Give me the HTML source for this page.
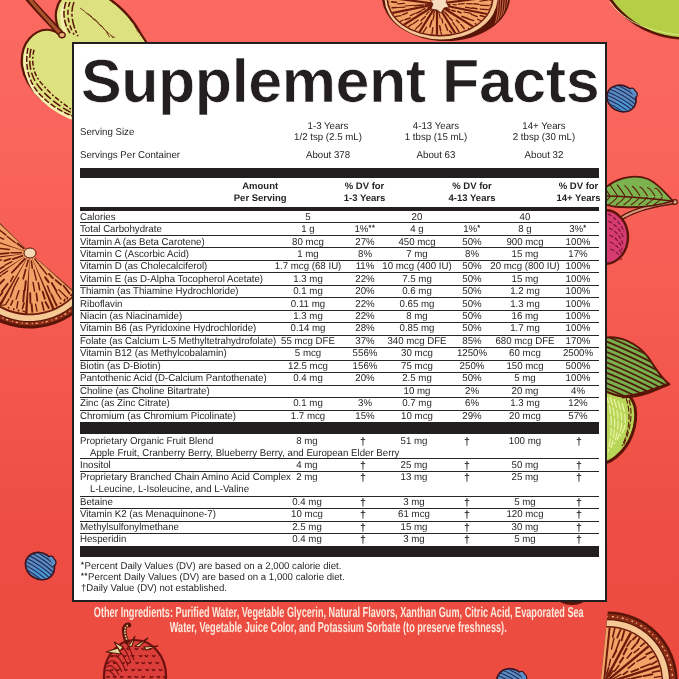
<!DOCTYPE html>
<html><head><meta charset="utf-8"><title>Supplement Facts</title>
<style>
html,body{margin:0;padding:0}
body{width:679px;height:679px;overflow:hidden;position:relative;background:linear-gradient(180deg,#fa6a61 0%,#f9645b 22%,#f65c52 44%,#f05248 66%,#ec4c41 81%,#ec4b40 100%);font-family:"Liberation Sans",Arial,Helvetica,sans-serif;color:#231f20;text-rendering:geometricPrecision}
.bg{position:absolute;left:0;top:0}
.panel{position:absolute;left:72px;top:42px;width:531px;height:556px;border:2px solid #231f20;background:#fff}
.t{position:absolute;white-space:nowrap;font-size:9.9px;line-height:11px}
.t sup{font-size:7.5px;vertical-align:0;position:relative;top:-1.9px;letter-spacing:0.7px;font-weight:bold}
.dg{font-size:10.8px;position:relative;top:1.3px;font-weight:bold}
.l{position:absolute}
.title{position:absolute;left:81px;top:50.6px;font-weight:bold;font-size:61px;line-height:61px;white-space:nowrap;letter-spacing:-0.45px;-webkit-text-stroke:0.7px #fff;paint-order:fill stroke;text-rendering:auto}
.oi{position:absolute;left:-201px;width:1079px;text-align:center;color:#fde8dc;font-weight:bold;font-size:14.4px;line-height:16px;white-space:nowrap}
.oi span{display:inline-block;transform:scaleX(0.635);transform-origin:50% 50%}
</style></head><body>
<svg class="bg" width="679" height="679" viewBox="0 0 679 679">
<path d="M62,36 C57,28 54,16 57,8 C58,3 60,0 64,-4 L104,-4 C118,3 132,18 141,34 L150,48 L150,118 L76,118 C63,113 50,107 41,99 C32,90 24,79 22,66 C21,55 23,46 29,39 C35,32 43,29 50,30 C55,31 59,33 62,36 Z" fill="#dee17f" stroke="#5a1508" stroke-width="2.2"/>
<path d="M27,50 C24,62 26,78 36,92 C46,104 58,112 72,118" fill="none" stroke="#f6f0b0" stroke-width="4"/>
<path d="M64,4 C60,14 62,26 66,34" fill="none" stroke="#f6f0b0" stroke-width="3"/>
<path d="M28,48.0 C25,62 27,78.0 37,91 C47,103 58,110 72,116" fill="none" stroke="#5a1508" stroke-width="1.5" stroke-dasharray="6 2"/>
<path d="M31,48.9 C28,62 30,76.5 40,88 C50,100 61,107 72,113" fill="none" stroke="#5a1508" stroke-width="1.5" stroke-dasharray="9 3"/>
<path d="M34,49.8 C31,62 33,75.0 43,85 C53,97 64,104 72,110" fill="none" stroke="#5a1508" stroke-width="1.5" stroke-dasharray="5 2 2 2"/>
<path d="M66,2 C62,12 64,24 70,33.0" fill="none" stroke="#5a1508" stroke-width="1.5" stroke-dasharray="7 2"/>
<path d="M70,2 C66,12 68,24 74,34.6" fill="none" stroke="#5a1508" stroke-width="1.5" stroke-dasharray="5 3"/>
<path d="M74,2 C70,12 72,24 78,36.2" fill="none" stroke="#5a1508" stroke-width="1.5" stroke-dasharray="10 2 3 2"/>
<path d="M80,8.0 C92,16 104.0,26 110.0,38" fill="none" stroke="#5a1508" stroke-width="0.8" stroke-dasharray="6 3"/>
<path d="M85,12.0 C97,21 106.5,31 113.0,38" fill="none" stroke="#5a1508" stroke-width="0.8" stroke-dasharray="6 3"/>
<path d="M90,16.0 C102,26 109.0,36 116.0,38" fill="none" stroke="#5a1508" stroke-width="0.8" stroke-dasharray="6 3"/>
<path d="M112,2 C124,10 134,22 140,36" fill="none" stroke="#5a1508" stroke-width="0.8" stroke-dasharray="8 3"/>
<path d="M27,-3 C38,10 50,22 62,35" fill="none" stroke="#5a1508" stroke-width="6.5" stroke-linecap="round"/>
<path d="M28,-3 C38,10 50,22 61,34" fill="none" stroke="#a8532c" stroke-width="3.2" stroke-linecap="round"/>
<ellipse cx="62" cy="35" rx="3.2" ry="2.6" fill="#e9b07a" stroke="#5a1508" stroke-width="1.2"/>
<ellipse cx="446" cy="-3" rx="64" ry="44" fill="#5a1508"/>
<clipPath id="cTo"><ellipse cx="446" cy="-3" rx="62.5" ry="42.5"/></clipPath><g clip-path="url(#cTo)">
<path d="M498.0,-2 C499.0,12 496.0,26 489.0,38.0" fill="none" stroke="#c4603f" stroke-width="1.1"/>
<path d="M500.4,-2 C501.2,12 497.6,26 490.5,37.0" fill="none" stroke="#c4603f" stroke-width="1.1"/>
<path d="M502.8,-2 C503.4,12 499.2,26 492.0,36.0" fill="none" stroke="#c4603f" stroke-width="1.1"/>
<path d="M505.2,-2 C505.6,12 500.8,26 493.5,35.0" fill="none" stroke="#c4603f" stroke-width="1.1"/>
<path d="M507.6,-2 C507.8,12 502.4,26 495.0,34.0" fill="none" stroke="#c4603f" stroke-width="1.1"/>
</g>
<ellipse cx="441" cy="-2" rx="56.5" ry="41.5" fill="#f4c794"/>
<ellipse cx="440" cy="-2" rx="53.5" ry="38.5" fill="#6a1a0a"/>
<clipPath id="cT"><ellipse cx="440" cy="-2" rx="52" ry="37"/></clipPath>
<ellipse cx="440" cy="-2" rx="52" ry="37" fill="#f2a267"/>
<g clip-path="url(#cT)">
<path d="M437.0,4.0 L496.1,-3.8" stroke="#6a1a0a" stroke-width="2.2"/>
<path d="M437.0,4.0 L495.0,15.6" stroke="#6a1a0a" stroke-width="2.2"/>
<path d="M437.0,4.0 L483.0,32.9" stroke="#6a1a0a" stroke-width="2.2"/>
<path d="M437.0,4.0 L462.4,44.8" stroke="#6a1a0a" stroke-width="2.2"/>
<path d="M437.0,4.0 L437.0,49.0" stroke="#6a1a0a" stroke-width="2.2"/>
<path d="M437.0,4.0 L411.6,44.8" stroke="#6a1a0a" stroke-width="2.2"/>
<path d="M437.0,4.0 L391.0,32.9" stroke="#6a1a0a" stroke-width="2.2"/>
<path d="M437.0,4.0 L379.0,15.6" stroke="#6a1a0a" stroke-width="2.2"/>
<path d="M437.0,4.0 L377.9,-3.8" stroke="#6a1a0a" stroke-width="2.2"/>
<path d="M444.2,4.4 L449.6,4.9" stroke="#6a1a0a" stroke-width="1.56" stroke-linecap="round"/>
<path d="M452.9,4.5 L456.3,4.9" stroke="#6a1a0a" stroke-width="1.16" stroke-linecap="round"/>
<path d="M458.4,4.1 L464.3,3.6" stroke="#6a1a0a" stroke-width="1.21" stroke-linecap="round"/>
<path d="M466.6,3.6 L472.3,3.9" stroke="#6a1a0a" stroke-width="1.17" stroke-linecap="round"/>
<path d="M465.4,7.1 L472.1,8.3" stroke="#6a1a0a" stroke-width="1.20" stroke-linecap="round"/>
<path d="M473.9,3.7 L478.9,4.4" stroke="#6a1a0a" stroke-width="1.37" stroke-linecap="round"/>
<path d="M472.5,8.0 L477.1,8.8" stroke="#6a1a0a" stroke-width="1.58" stroke-linecap="round"/>
<path d="M479.8,1.2 L488.4,-0.1" stroke="#6a1a0a" stroke-width="1.13" stroke-linecap="round"/>
<path d="M480.3,5.1 L489.0,5.7" stroke="#6a1a0a" stroke-width="1.27" stroke-linecap="round"/>
<path d="M480.2,9.1 L487.5,9.6" stroke="#6a1a0a" stroke-width="1.34" stroke-linecap="round"/>
<path d="M490.2,-0.0 L497.6,0.0" stroke="#6a1a0a" stroke-width="1.52" stroke-linecap="round"/>
<path d="M490.2,4.8 L497.1,5.1" stroke="#6a1a0a" stroke-width="1.10" stroke-linecap="round"/>
<path d="M488.8,9.6 L495.5,9.6" stroke="#6a1a0a" stroke-width="1.48" stroke-linecap="round"/>
<path d="M442.6,6.5 L449.8,9.8" stroke="#6a1a0a" stroke-width="1.49" stroke-linecap="round"/>
<path d="M451.7,10.3 L455.0,11.2" stroke="#6a1a0a" stroke-width="1.57" stroke-linecap="round"/>
<path d="M457.7,11.6 L461.0,12.7" stroke="#6a1a0a" stroke-width="1.56" stroke-linecap="round"/>
<path d="M464.0,12.0 L471.1,13.4" stroke="#6a1a0a" stroke-width="1.17" stroke-linecap="round"/>
<path d="M462.0,16.4 L467.8,18.5" stroke="#6a1a0a" stroke-width="1.59" stroke-linecap="round"/>
<path d="M471.4,14.3 L477.2,16.7" stroke="#6a1a0a" stroke-width="1.33" stroke-linecap="round"/>
<path d="M468.0,18.8 L473.8,20.6" stroke="#6a1a0a" stroke-width="1.35" stroke-linecap="round"/>
<path d="M480.3,15.5 L486.2,17.3" stroke="#6a1a0a" stroke-width="1.49" stroke-linecap="round"/>
<path d="M477.7,19.2 L484.8,22.6" stroke="#6a1a0a" stroke-width="1.25" stroke-linecap="round"/>
<path d="M475.2,23.6 L479.6,27.0" stroke="#6a1a0a" stroke-width="1.33" stroke-linecap="round"/>
<path d="M488.2,18.9 L494.5,20.4" stroke="#6a1a0a" stroke-width="1.17" stroke-linecap="round"/>
<path d="M486.5,23.1 L490.4,24.9" stroke="#6a1a0a" stroke-width="1.35" stroke-linecap="round"/>
<path d="M482.0,26.8 L487.5,30.4" stroke="#6a1a0a" stroke-width="1.53" stroke-linecap="round"/>
<path d="M441.1,8.4 L443.8,11.4" stroke="#6a1a0a" stroke-width="1.48" stroke-linecap="round"/>
<path d="M445.1,12.4 L448.4,16.2" stroke="#6a1a0a" stroke-width="1.45" stroke-linecap="round"/>
<path d="M449.2,17.6 L452.5,20.5" stroke="#6a1a0a" stroke-width="1.37" stroke-linecap="round"/>
<path d="M456.3,20.0 L459.2,22.8" stroke="#6a1a0a" stroke-width="1.50" stroke-linecap="round"/>
<path d="M452.8,22.3 L454.8,25.4" stroke="#6a1a0a" stroke-width="1.28" stroke-linecap="round"/>
<path d="M460.8,24.4 L464.2,28.5" stroke="#6a1a0a" stroke-width="1.36" stroke-linecap="round"/>
<path d="M455.8,26.4 L458.9,31.6" stroke="#6a1a0a" stroke-width="1.34" stroke-linecap="round"/>
<path d="M468.6,28.6 L473.1,33.0" stroke="#6a1a0a" stroke-width="1.39" stroke-linecap="round"/>
<path d="M464.2,31.0 L467.7,35.4" stroke="#6a1a0a" stroke-width="1.42" stroke-linecap="round"/>
<path d="M459.2,32.9 L463.5,38.3" stroke="#6a1a0a" stroke-width="1.43" stroke-linecap="round"/>
<path d="M474.6,33.2 L478.7,36.3" stroke="#6a1a0a" stroke-width="1.21" stroke-linecap="round"/>
<path d="M470.4,35.2 L475.0,38.3" stroke="#6a1a0a" stroke-width="1.20" stroke-linecap="round"/>
<path d="M465.4,38.4 L468.0,42.0" stroke="#6a1a0a" stroke-width="1.40" stroke-linecap="round"/>
<path d="M438.0,8.4 L439.1,13.0" stroke="#6a1a0a" stroke-width="1.31" stroke-linecap="round"/>
<path d="M439.3,14.0 L440.2,18.3" stroke="#6a1a0a" stroke-width="1.15" stroke-linecap="round"/>
<path d="M441.9,18.8 L442.7,22.8" stroke="#6a1a0a" stroke-width="1.31" stroke-linecap="round"/>
<path d="M445.3,24.2 L447.6,30.2" stroke="#6a1a0a" stroke-width="1.38" stroke-linecap="round"/>
<path d="M439.7,25.7 L440.6,30.6" stroke="#6a1a0a" stroke-width="1.55" stroke-linecap="round"/>
<path d="M449.5,30.7 L451.6,33.2" stroke="#6a1a0a" stroke-width="1.41" stroke-linecap="round"/>
<path d="M440.7,31.9 L441.7,35.3" stroke="#6a1a0a" stroke-width="1.25" stroke-linecap="round"/>
<path d="M452.0,35.2 L454.0,40.0" stroke="#6a1a0a" stroke-width="1.23" stroke-linecap="round"/>
<path d="M445.4,36.1 L447.5,42.1" stroke="#6a1a0a" stroke-width="1.59" stroke-linecap="round"/>
<path d="M441.2,36.3 L443.0,42.6" stroke="#6a1a0a" stroke-width="1.41" stroke-linecap="round"/>
<path d="M455.5,42.0 L458.6,45.1" stroke="#6a1a0a" stroke-width="1.37" stroke-linecap="round"/>
<path d="M449.3,43.5 L451.2,46.9" stroke="#6a1a0a" stroke-width="1.23" stroke-linecap="round"/>
<path d="M443.1,44.4 L443.4,48.7" stroke="#6a1a0a" stroke-width="1.34" stroke-linecap="round"/>
<path d="M435.4,9.2 L433.5,14.4" stroke="#6a1a0a" stroke-width="1.25" stroke-linecap="round"/>
<path d="M434.1,15.1 L432.9,19.9" stroke="#6a1a0a" stroke-width="1.28" stroke-linecap="round"/>
<path d="M431.8,20.6 L429.9,26.8" stroke="#6a1a0a" stroke-width="1.56" stroke-linecap="round"/>
<path d="M432.9,27.6 L432.0,33.5" stroke="#6a1a0a" stroke-width="1.39" stroke-linecap="round"/>
<path d="M426.6,27.2 L423.3,32.4" stroke="#6a1a0a" stroke-width="1.29" stroke-linecap="round"/>
<path d="M430.7,34.8 L428.9,39.6" stroke="#6a1a0a" stroke-width="1.13" stroke-linecap="round"/>
<path d="M423.1,34.0 L421.8,38.1" stroke="#6a1a0a" stroke-width="1.49" stroke-linecap="round"/>
<path d="M433.1,41.0 L432.5,46.9" stroke="#6a1a0a" stroke-width="1.27" stroke-linecap="round"/>
<path d="M427.1,40.5 L426.9,45.9" stroke="#6a1a0a" stroke-width="1.22" stroke-linecap="round"/>
<path d="M419.6,39.1 L418.4,44.5" stroke="#6a1a0a" stroke-width="1.46" stroke-linecap="round"/>
<path d="M431.1,48.4 L429.0,54.9" stroke="#6a1a0a" stroke-width="1.21" stroke-linecap="round"/>
<path d="M426.4,48.2 L426.4,53.6" stroke="#6a1a0a" stroke-width="1.25" stroke-linecap="round"/>
<path d="M420.8,46.3 L418.8,52.5" stroke="#6a1a0a" stroke-width="1.18" stroke-linecap="round"/>
<path d="M416.4,45.1 L413.4,51.9" stroke="#6a1a0a" stroke-width="1.14" stroke-linecap="round"/>
<path d="M432.6,8.2 L430.7,10.3" stroke="#6a1a0a" stroke-width="1.32" stroke-linecap="round"/>
<path d="M429.0,11.6 L426.2,14.4" stroke="#6a1a0a" stroke-width="1.13" stroke-linecap="round"/>
<path d="M425.4,16.6 L421.1,20.6" stroke="#6a1a0a" stroke-width="1.38" stroke-linecap="round"/>
<path d="M421.9,22.7 L417.8,27.1" stroke="#6a1a0a" stroke-width="1.36" stroke-linecap="round"/>
<path d="M418.1,20.2 L412.9,24.1" stroke="#6a1a0a" stroke-width="1.19" stroke-linecap="round"/>
<path d="M417.0,27.2 L413.7,32.3" stroke="#6a1a0a" stroke-width="1.16" stroke-linecap="round"/>
<path d="M411.6,24.3 L407.0,28.0" stroke="#6a1a0a" stroke-width="1.26" stroke-linecap="round"/>
<path d="M414.2,34.6 L411.2,40.2" stroke="#6a1a0a" stroke-width="1.58" stroke-linecap="round"/>
<path d="M408.7,31.2 L402.3,35.6" stroke="#6a1a0a" stroke-width="1.43" stroke-linecap="round"/>
<path d="M404.4,28.1 L399.2,32.4" stroke="#6a1a0a" stroke-width="1.22" stroke-linecap="round"/>
<path d="M408.7,39.6 L406.6,44.0" stroke="#6a1a0a" stroke-width="1.52" stroke-linecap="round"/>
<path d="M402.6,37.1 L398.5,39.7" stroke="#6a1a0a" stroke-width="1.36" stroke-linecap="round"/>
<path d="M397.8,33.6 L394.5,36.5" stroke="#6a1a0a" stroke-width="1.15" stroke-linecap="round"/>
<path d="M431.8,6.3 L428.0,7.9" stroke="#6a1a0a" stroke-width="1.48" stroke-linecap="round"/>
<path d="M425.1,8.7 L422.1,9.9" stroke="#6a1a0a" stroke-width="1.33" stroke-linecap="round"/>
<path d="M421.2,11.0 L416.6,13.1" stroke="#6a1a0a" stroke-width="1.54" stroke-linecap="round"/>
<path d="M415.3,13.2 L410.4,15.6" stroke="#6a1a0a" stroke-width="1.22" stroke-linecap="round"/>
<path d="M410.3,17.9 L405.0,19.8" stroke="#6a1a0a" stroke-width="1.44" stroke-linecap="round"/>
<path d="M407.4,12.8 L402.7,14.7" stroke="#6a1a0a" stroke-width="1.43" stroke-linecap="round"/>
<path d="M402.9,20.0 L398.5,22.7" stroke="#6a1a0a" stroke-width="1.11" stroke-linecap="round"/>
<path d="M401.0,15.7 L394.9,16.7" stroke="#6a1a0a" stroke-width="1.28" stroke-linecap="round"/>
<path d="M398.6,23.9 L393.8,25.8" stroke="#6a1a0a" stroke-width="1.18" stroke-linecap="round"/>
<path d="M395.4,20.8 L391.4,22.0" stroke="#6a1a0a" stroke-width="1.32" stroke-linecap="round"/>
<path d="M393.3,15.4 L386.3,16.6" stroke="#6a1a0a" stroke-width="1.31" stroke-linecap="round"/>
<path d="M391.6,27.3 L388.9,29.1" stroke="#6a1a0a" stroke-width="1.15" stroke-linecap="round"/>
<path d="M388.9,23.7 L384.9,24.2" stroke="#6a1a0a" stroke-width="1.13" stroke-linecap="round"/>
<path d="M387.1,18.5 L382.6,20.9" stroke="#6a1a0a" stroke-width="1.23" stroke-linecap="round"/>
<path d="M388.5,30.2 L381.5,32.5" stroke="#6a1a0a" stroke-width="1.19" stroke-linecap="round"/>
<path d="M384.9,26.7 L380.4,29.8" stroke="#6a1a0a" stroke-width="1.26" stroke-linecap="round"/>
<path d="M382.5,23.7 L377.9,25.1" stroke="#6a1a0a" stroke-width="1.53" stroke-linecap="round"/>
<path d="M381.0,19.5 L374.9,21.2" stroke="#6a1a0a" stroke-width="1.39" stroke-linecap="round"/>
<path d="M429.9,4.1 L425.3,4.3" stroke="#6a1a0a" stroke-width="1.32" stroke-linecap="round"/>
<path d="M423.4,4.9 L414.9,5.8" stroke="#6a1a0a" stroke-width="1.49" stroke-linecap="round"/>
<path d="M414.1,5.2 L405.2,6.0" stroke="#6a1a0a" stroke-width="1.14" stroke-linecap="round"/>
<path d="M404.8,7.1 L397.6,7.5" stroke="#6a1a0a" stroke-width="1.12" stroke-linecap="round"/>
<path d="M404.5,3.4 L397.9,3.9" stroke="#6a1a0a" stroke-width="1.31" stroke-linecap="round"/>
<path d="M396.6,7.6 L392.0,7.7" stroke="#6a1a0a" stroke-width="1.48" stroke-linecap="round"/>
<path d="M396.6,2.4 L391.7,1.9" stroke="#6a1a0a" stroke-width="1.58" stroke-linecap="round"/>
<path d="M390.1,9.5 L383.4,10.6" stroke="#6a1a0a" stroke-width="1.17" stroke-linecap="round"/>
<path d="M389.8,6.3 L381.6,6.3" stroke="#6a1a0a" stroke-width="1.24" stroke-linecap="round"/>
<path d="M388.9,1.9 L382.2,2.7" stroke="#6a1a0a" stroke-width="1.13" stroke-linecap="round"/>
<path d="M380.6,11.4 L377.2,11.6" stroke="#6a1a0a" stroke-width="1.22" stroke-linecap="round"/>
<path d="M380.5,6.0 L375.3,7.4" stroke="#6a1a0a" stroke-width="1.39" stroke-linecap="round"/>
<path d="M380.2,-0.0 L375.0,-0.5" stroke="#6a1a0a" stroke-width="1.19" stroke-linecap="round"/>
</g>
<path d="M430,0 L433,4 L431,9 L437,10 L441,13 L444,8 L449,7 L446,2 L448,-2 Z" fill="#f6dcbc" stroke="#6a1a0a" stroke-width="0.8"/>
<path d="M30.0,253.0 L86.6,302.2 A75.0,75.0 0 1 1 -23.0,200.0 Z" fill="#5a1508" />
<path d="M30.0,253.0 L84.9,300.8 A72.8,72.8 0 1 1 -21.5,201.5 Z" fill="#8c2c16" />
<path d="M81.6,301.1 A70.5,70.5 0 1 1 -21.6,204.9" fill="none" stroke="#f0b888" stroke-width="1.3" stroke-dasharray="2 3 1 4"/>
<path d="M30.0,253.0 L81.7,297.9 A68.5,68.5 0 1 1 -18.4,204.6 Z" fill="#5a1508" />
<path d="M30.0,253.0 L80.9,297.3 A67.5,67.5 0 1 1 -17.7,205.3 Z" fill="#f5c896" />
<path d="M30.0,253.0 L76.8,293.7 A62.0,62.0 0 1 1 -13.8,209.2 Z" fill="#6c1a0a" />
<path d="M33.0,255.7 L74.8,293.6 A60.5,60.5 0 0 1 54.5,308.3 L31.6,256.7 Z" fill="#f2a267"/>
<path d="M34.8,258.9 L38.8,264.1" stroke="#6c1a0a" stroke-width="1.38" stroke-linecap="round"/>
<path d="M39.6,265.3 L46.8,274.4" stroke="#6c1a0a" stroke-width="1.49" stroke-linecap="round"/>
<path d="M48.9,273.9 L53.0,278.3" stroke="#6c1a0a" stroke-width="1.77" stroke-linecap="round"/>
<path d="M45.1,277.3 L48.6,282.2" stroke="#6c1a0a" stroke-width="2.00" stroke-linecap="round"/>
<path d="M55.6,280.1 L61.1,284.7" stroke="#6c1a0a" stroke-width="1.86" stroke-linecap="round"/>
<path d="M51.8,283.0 L56.4,290.9" stroke="#6c1a0a" stroke-width="1.92" stroke-linecap="round"/>
<path d="M47.5,285.9 L50.0,292.6" stroke="#6c1a0a" stroke-width="1.47" stroke-linecap="round"/>
<path d="M63.6,285.8 L69.5,293.4" stroke="#6c1a0a" stroke-width="1.81" stroke-linecap="round"/>
<path d="M58.7,289.6 L66.0,296.8" stroke="#6c1a0a" stroke-width="1.33" stroke-linecap="round"/>
<path d="M56.3,292.2 L61.0,299.1" stroke="#6c1a0a" stroke-width="1.30" stroke-linecap="round"/>
<path d="M51.2,294.2 L55.9,304.2" stroke="#6c1a0a" stroke-width="1.85" stroke-linecap="round"/>
<path d="M71.6,294.7 L71.0,295.4" stroke="#6c1a0a" stroke-width="1.90" stroke-linecap="round"/>
<path d="M67.2,297.7 L67.4,298.6" stroke="#6c1a0a" stroke-width="1.76" stroke-linecap="round"/>
<path d="M64.7,299.4 L64.3,301.0" stroke="#6c1a0a" stroke-width="1.77" stroke-linecap="round"/>
<path d="M60.2,303.2 L60.8,303.3" stroke="#6c1a0a" stroke-width="1.44" stroke-linecap="round"/>
<path d="M56.3,304.5 L56.5,305.7" stroke="#6c1a0a" stroke-width="1.89" stroke-linecap="round"/>
<path d="M31.5,256.7 L52.2,309.3 A60.5,60.5 0 0 1 27.5,313.4 L29.8,257.0 Z" fill="#f2a267"/>
<path d="M31.4,261.1 L32.3,268.3" stroke="#6c1a0a" stroke-width="1.55" stroke-linecap="round"/>
<path d="M33.9,269.8 L36.3,280.2" stroke="#6c1a0a" stroke-width="1.36" stroke-linecap="round"/>
<path d="M38.3,282.8 L39.7,289.8" stroke="#6c1a0a" stroke-width="1.62" stroke-linecap="round"/>
<path d="M33.0,282.4 L34.6,291.2" stroke="#6c1a0a" stroke-width="1.42" stroke-linecap="round"/>
<path d="M42.7,291.7 L44.8,298.8" stroke="#6c1a0a" stroke-width="1.88" stroke-linecap="round"/>
<path d="M36.4,293.4 L37.3,300.8" stroke="#6c1a0a" stroke-width="1.67" stroke-linecap="round"/>
<path d="M30.2,293.1 L30.4,302.9" stroke="#6c1a0a" stroke-width="1.83" stroke-linecap="round"/>
<path d="M45.5,302.0 L48.8,308.0" stroke="#6c1a0a" stroke-width="1.95" stroke-linecap="round"/>
<path d="M42.0,302.3 L43.8,310.1" stroke="#6c1a0a" stroke-width="1.63" stroke-linecap="round"/>
<path d="M35.6,304.1 L37.0,311.1" stroke="#6c1a0a" stroke-width="1.34" stroke-linecap="round"/>
<path d="M31.6,304.3 L32.3,311.8" stroke="#6c1a0a" stroke-width="1.91" stroke-linecap="round"/>
<path d="M29.7,257.0 L25.0,313.3 A60.5,60.5 0 0 1 1.0,306.1 L28.1,256.5 Z" fill="#f2a267"/>
<path d="M28.2,260.3 L26.4,266.6" stroke="#6c1a0a" stroke-width="1.50" stroke-linecap="round"/>
<path d="M25.6,269.6 L23.2,278.8" stroke="#6c1a0a" stroke-width="1.68" stroke-linecap="round"/>
<path d="M25.8,281.2 L24.8,290.3" stroke="#6c1a0a" stroke-width="1.86" stroke-linecap="round"/>
<path d="M18.6,277.7 L14.1,286.6" stroke="#6c1a0a" stroke-width="1.37" stroke-linecap="round"/>
<path d="M24.2,290.6 L23.2,301.5" stroke="#6c1a0a" stroke-width="1.89" stroke-linecap="round"/>
<path d="M18.9,290.7 L16.1,299.1" stroke="#6c1a0a" stroke-width="1.39" stroke-linecap="round"/>
<path d="M13.7,287.8 L10.4,297.1" stroke="#6c1a0a" stroke-width="1.44" stroke-linecap="round"/>
<path d="M24.1,303.0 L22.4,308.6" stroke="#6c1a0a" stroke-width="1.57" stroke-linecap="round"/>
<path d="M17.9,301.6 L16.8,308.0" stroke="#6c1a0a" stroke-width="1.47" stroke-linecap="round"/>
<path d="M12.8,300.6 L10.8,305.1" stroke="#6c1a0a" stroke-width="1.53" stroke-linecap="round"/>
<path d="M9.1,298.8 L5.5,304.8" stroke="#6c1a0a" stroke-width="1.30" stroke-linecap="round"/>
<path d="M23.0,311.0 L24.3,311.7" stroke="#6c1a0a" stroke-width="1.41" stroke-linecap="round"/>
<path d="M18.6,310.3 L18.3,310.8" stroke="#6c1a0a" stroke-width="1.74" stroke-linecap="round"/>
<path d="M13.8,308.7 L13.7,309.7" stroke="#6c1a0a" stroke-width="1.49" stroke-linecap="round"/>
<path d="M8.3,307.5 L8.9,308.1" stroke="#6c1a0a" stroke-width="1.36" stroke-linecap="round"/>
<path d="M4.4,304.8 L2.6,305.3" stroke="#6c1a0a" stroke-width="1.31" stroke-linecap="round"/>
<path d="M27.9,256.4 L-1.2,304.8 A60.5,60.5 0 0 1 -19.5,287.8 L26.7,255.3 Z" fill="#f2a267"/>
<path d="M24.9,258.8 L19.2,264.7" stroke="#6c1a0a" stroke-width="1.79" stroke-linecap="round"/>
<path d="M18.3,265.9 L11.9,272.7" stroke="#6c1a0a" stroke-width="1.85" stroke-linecap="round"/>
<path d="M13.3,276.4 L10.5,281.6" stroke="#6c1a0a" stroke-width="1.46" stroke-linecap="round"/>
<path d="M7.7,271.0 L2.6,274.3" stroke="#6c1a0a" stroke-width="1.42" stroke-linecap="round"/>
<path d="M7.8,283.7 L1.9,291.4" stroke="#6c1a0a" stroke-width="1.82" stroke-linecap="round"/>
<path d="M4.0,279.6 L-2.3,285.8" stroke="#6c1a0a" stroke-width="2.00" stroke-linecap="round"/>
<path d="M1.1,275.5 L-6.5,281.4" stroke="#6c1a0a" stroke-width="1.57" stroke-linecap="round"/>
<path d="M2.4,292.6 L-4.4,301.0" stroke="#6c1a0a" stroke-width="1.79" stroke-linecap="round"/>
<path d="M-1.3,289.4 L-8.1,298.0" stroke="#6c1a0a" stroke-width="1.36" stroke-linecap="round"/>
<path d="M-4.3,286.8 L-11.5,294.6" stroke="#6c1a0a" stroke-width="1.45" stroke-linecap="round"/>
<path d="M-7.4,282.5 L-16.5,288.5" stroke="#6c1a0a" stroke-width="1.52" stroke-linecap="round"/>
<path d="M26.6,255.2 L-20.9,285.6 A60.5,60.5 0 0 1 -29.8,262.2 L26.0,253.6 Z" fill="#f2a267"/>
<path d="M22.6,255.8 L12.8,259.1" stroke="#6c1a0a" stroke-width="1.65" stroke-linecap="round"/>
<path d="M11.9,261.6 L5.1,265.1" stroke="#6c1a0a" stroke-width="1.33" stroke-linecap="round"/>
<path d="M10.5,258.8 L4.3,260.9" stroke="#6c1a0a" stroke-width="1.64" stroke-linecap="round"/>
<path d="M4.1,266.3 L-4.7,271.5" stroke="#6c1a0a" stroke-width="1.68" stroke-linecap="round"/>
<path d="M1.5,259.9 L-7.8,261.7" stroke="#6c1a0a" stroke-width="1.40" stroke-linecap="round"/>
<path d="M-5.2,271.5 L-12.9,274.7" stroke="#6c1a0a" stroke-width="1.79" stroke-linecap="round"/>
<path d="M-6.9,267.9 L-14.8,270.9" stroke="#6c1a0a" stroke-width="1.71" stroke-linecap="round"/>
<path d="M-8.4,262.7 L-16.7,263.9" stroke="#6c1a0a" stroke-width="1.87" stroke-linecap="round"/>
<path d="M-12.3,278.0 L-21.2,282.2" stroke="#6c1a0a" stroke-width="1.50" stroke-linecap="round"/>
<path d="M-15.3,273.8 L-24.1,276.6" stroke="#6c1a0a" stroke-width="1.70" stroke-linecap="round"/>
<path d="M-16.3,267.9 L-26.0,271.4" stroke="#6c1a0a" stroke-width="1.43" stroke-linecap="round"/>
<path d="M-18.2,262.5 L-27.7,265.5" stroke="#6c1a0a" stroke-width="1.84" stroke-linecap="round"/>
<path d="M26.0,253.4 L-30.1,259.7 A60.5,60.5 0 0 1 -27.7,234.8 L26.2,251.8 Z" fill="#f2a267"/>
<path d="M21.5,252.7 L11.1,252.8" stroke="#6c1a0a" stroke-width="1.63" stroke-linecap="round"/>
<path d="M8.7,253.2 L-1.6,254.0" stroke="#6c1a0a" stroke-width="1.77" stroke-linecap="round"/>
<path d="M9.3,249.4 L-1.3,248.3" stroke="#6c1a0a" stroke-width="1.46" stroke-linecap="round"/>
<path d="M-3.4,255.0 L-10.9,254.9" stroke="#6c1a0a" stroke-width="1.74" stroke-linecap="round"/>
<path d="M-2.8,250.2 L-11.7,248.5" stroke="#6c1a0a" stroke-width="1.61" stroke-linecap="round"/>
<path d="M-2.3,245.2 L-10.0,242.2" stroke="#6c1a0a" stroke-width="1.37" stroke-linecap="round"/>
<path d="M-12.5,254.8 L-22.5,254.0" stroke="#6c1a0a" stroke-width="1.66" stroke-linecap="round"/>
<path d="M-13.4,251.6 L-22.2,250.5" stroke="#6c1a0a" stroke-width="1.87" stroke-linecap="round"/>
<path d="M-13.0,246.1 L-21.3,243.9" stroke="#6c1a0a" stroke-width="1.64" stroke-linecap="round"/>
<path d="M-11.0,242.4 L-21.0,240.7" stroke="#6c1a0a" stroke-width="1.68" stroke-linecap="round"/>
<path d="M-24.0,257.0 L-28.9,256.3" stroke="#6c1a0a" stroke-width="1.46" stroke-linecap="round"/>
<path d="M-24.3,250.6 L-28.9,249.8" stroke="#6c1a0a" stroke-width="1.90" stroke-linecap="round"/>
<path d="M-23.9,245.8 L-28.6,245.9" stroke="#6c1a0a" stroke-width="1.46" stroke-linecap="round"/>
<path d="M-23.3,240.1 L-27.6,240.4" stroke="#6c1a0a" stroke-width="1.60" stroke-linecap="round"/>
<path d="M26.2,251.6 L-26.9,232.4 A60.5,60.5 0 0 1 -13.7,211.1 L27.1,250.2 Z" fill="#f2a267"/>
<path d="M23.9,248.5 L17.3,243.5" stroke="#6c1a0a" stroke-width="1.94" stroke-linecap="round"/>
<path d="M15.3,242.7 L7.3,236.5" stroke="#6c1a0a" stroke-width="1.32" stroke-linecap="round"/>
<path d="M3.6,239.1 L-5.0,235.1" stroke="#6c1a0a" stroke-width="1.41" stroke-linecap="round"/>
<path d="M5.8,234.9 L-1.9,228.9" stroke="#6c1a0a" stroke-width="1.55" stroke-linecap="round"/>
<path d="M-8.5,235.9 L-13.1,232.8" stroke="#6c1a0a" stroke-width="1.92" stroke-linecap="round"/>
<path d="M-5.3,230.1 L-11.8,227.3" stroke="#6c1a0a" stroke-width="1.75" stroke-linecap="round"/>
<path d="M-2.4,225.8 L-6.4,222.2" stroke="#6c1a0a" stroke-width="1.36" stroke-linecap="round"/>
<path d="M-15.7,232.9 L-22.8,229.9" stroke="#6c1a0a" stroke-width="1.72" stroke-linecap="round"/>
<path d="M-14.3,229.5 L-21.1,224.6" stroke="#6c1a0a" stroke-width="1.42" stroke-linecap="round"/>
<path d="M-10.7,223.6 L-17.3,219.6" stroke="#6c1a0a" stroke-width="1.51" stroke-linecap="round"/>
<path d="M-7.5,219.2 L-13.1,214.0" stroke="#6c1a0a" stroke-width="1.93" stroke-linecap="round"/>
<ellipse cx="30.0" cy="253.0" rx="6" ry="5" fill="#f3d6b4" stroke="#5a1508" stroke-width="1"/>
<clipPath id="cBR"><path d="M600.3,686 L608.6,604 L700,604 L700,700 L600.3,700 Z"/></clipPath>
<g clip-path="url(#cBR)">
<circle cx="607.7" cy="681.5" r="70" fill="#5a1508"/>
<circle cx="607.7" cy="681.5" r="67.5" fill="#8c2c16"/>
<circle cx="607.7" cy="681.5" r="65" fill="none" stroke="#f0b888" stroke-width="1.4" stroke-dasharray="2 3 1 4"/>
<circle cx="607.7" cy="681.5" r="62.5" fill="#5a1508"/>
<circle cx="607.7" cy="681.5" r="61.3" fill="#f5c896"/>
<circle cx="607.7" cy="681.5" r="55.5" fill="#6c1a0a"/>
<circle cx="607.7" cy="681.5" r="54" fill="#f2a267"/>
</g>
<clipPath id="cBR2"><path d="M602.6,686 L610.2,612 L700,612 L700,700 Z"/></clipPath>
<clipPath id="cBR3"><circle cx="607.7" cy="681.5" r="54"/></clipPath>
<g clip-path="url(#cBR3)"><g clip-path="url(#cBR2)">
<path d="M603.5,684 L611.9,604.4" stroke="#6c1a0a" stroke-width="2.4"/>
<path d="M603.5,684 L641.1,613.4" stroke="#6c1a0a" stroke-width="2.4"/>
<path d="M603.5,684 L664.8,632.6" stroke="#6c1a0a" stroke-width="2.4"/>
<path d="M603.5,684 L679.6,659.3" stroke="#6c1a0a" stroke-width="2.4"/>
<path d="M603.5,684 L683.3,689.6" stroke="#6c1a0a" stroke-width="2.4"/>
<path d="M606.3,675.0 L608.7,667.5" stroke="#6c1a0a" stroke-width="1.71" stroke-linecap="round"/>
<path d="M609.1,665.6 L610.5,659.4" stroke="#6c1a0a" stroke-width="1.51" stroke-linecap="round"/>
<path d="M612.8,657.3 L616.1,650.7" stroke="#6c1a0a" stroke-width="1.98" stroke-linecap="round"/>
<path d="M611.5,649.0 L614.0,638.3" stroke="#6c1a0a" stroke-width="1.34" stroke-linecap="round"/>
<path d="M616.0,650.3 L619.7,640.1" stroke="#6c1a0a" stroke-width="1.61" stroke-linecap="round"/>
<path d="M612.7,637.0 L615.1,627.1" stroke="#6c1a0a" stroke-width="1.62" stroke-linecap="round"/>
<path d="M617.2,637.6 L620.7,629.5" stroke="#6c1a0a" stroke-width="1.80" stroke-linecap="round"/>
<path d="M621.6,640.4 L624.7,629.4" stroke="#6c1a0a" stroke-width="1.84" stroke-linecap="round"/>
<path d="M614.8,625.4 L617.4,618.2" stroke="#6c1a0a" stroke-width="1.30" stroke-linecap="round"/>
<path d="M618.4,625.4 L621.9,618.4" stroke="#6c1a0a" stroke-width="1.58" stroke-linecap="round"/>
<path d="M622.5,627.0 L624.1,619.7" stroke="#6c1a0a" stroke-width="1.36" stroke-linecap="round"/>
<path d="M627.6,628.4 L629.2,621.5" stroke="#6c1a0a" stroke-width="1.47" stroke-linecap="round"/>
<path d="M608.9,676.5 L613.0,670.9" stroke="#6c1a0a" stroke-width="1.61" stroke-linecap="round"/>
<path d="M614.4,671.3 L618.9,665.4" stroke="#6c1a0a" stroke-width="1.59" stroke-linecap="round"/>
<path d="M619.8,662.6 L623.2,657.6" stroke="#6c1a0a" stroke-width="1.92" stroke-linecap="round"/>
<path d="M623.6,654.4 L626.5,648.5" stroke="#6c1a0a" stroke-width="1.99" stroke-linecap="round"/>
<path d="M627.1,658.2 L631.6,652.7" stroke="#6c1a0a" stroke-width="1.51" stroke-linecap="round"/>
<path d="M627.1,646.3 L631.0,640.5" stroke="#6c1a0a" stroke-width="1.56" stroke-linecap="round"/>
<path d="M631.8,649.0 L635.7,644.4" stroke="#6c1a0a" stroke-width="1.91" stroke-linecap="round"/>
<path d="M634.1,652.6 L639.1,648.7" stroke="#6c1a0a" stroke-width="1.47" stroke-linecap="round"/>
<path d="M633.0,639.5 L638.1,634.4" stroke="#6c1a0a" stroke-width="1.92" stroke-linecap="round"/>
<path d="M636.8,643.3 L640.7,636.1" stroke="#6c1a0a" stroke-width="1.97" stroke-linecap="round"/>
<path d="M640.6,646.1 L646.4,641.6" stroke="#6c1a0a" stroke-width="1.72" stroke-linecap="round"/>
<path d="M636.0,631.3 L639.5,623.7" stroke="#6c1a0a" stroke-width="1.69" stroke-linecap="round"/>
<path d="M641.0,634.9 L647.1,629.5" stroke="#6c1a0a" stroke-width="1.44" stroke-linecap="round"/>
<path d="M643.2,637.3 L647.3,630.1" stroke="#6c1a0a" stroke-width="1.42" stroke-linecap="round"/>
<path d="M647.6,640.7 L653.2,634.5" stroke="#6c1a0a" stroke-width="1.92" stroke-linecap="round"/>
<path d="M611.5,679.8 L620.8,674.4" stroke="#6c1a0a" stroke-width="1.32" stroke-linecap="round"/>
<path d="M623.2,674.4 L627.5,671.5" stroke="#6c1a0a" stroke-width="1.75" stroke-linecap="round"/>
<path d="M628.3,668.1 L634.5,663.1" stroke="#6c1a0a" stroke-width="1.68" stroke-linecap="round"/>
<path d="M631.3,671.8 L638.4,669.2" stroke="#6c1a0a" stroke-width="1.86" stroke-linecap="round"/>
<path d="M637.0,661.4 L645.6,656.7" stroke="#6c1a0a" stroke-width="1.59" stroke-linecap="round"/>
<path d="M640.8,667.8 L650.3,664.1" stroke="#6c1a0a" stroke-width="1.57" stroke-linecap="round"/>
<path d="M646.3,654.3 L655.0,650.2" stroke="#6c1a0a" stroke-width="1.92" stroke-linecap="round"/>
<path d="M649.7,659.0 L657.6,655.0" stroke="#6c1a0a" stroke-width="1.61" stroke-linecap="round"/>
<path d="M651.7,664.3 L659.8,659.4" stroke="#6c1a0a" stroke-width="1.72" stroke-linecap="round"/>
<path d="M612.4,682.6 L620.7,681.4" stroke="#6c1a0a" stroke-width="1.94" stroke-linecap="round"/>
<path d="M622.0,680.6 L629.3,678.8" stroke="#6c1a0a" stroke-width="1.42" stroke-linecap="round"/>
<path d="M631.3,678.6 L641.2,676.4" stroke="#6c1a0a" stroke-width="1.77" stroke-linecap="round"/>
<path d="M631.8,682.2 L642.1,682.4" stroke="#6c1a0a" stroke-width="1.92" stroke-linecap="round"/>
<path d="M643.4,676.1 L652.4,674.3" stroke="#6c1a0a" stroke-width="1.89" stroke-linecap="round"/>
<path d="M644.8,683.1 L651.7,682.4" stroke="#6c1a0a" stroke-width="1.42" stroke-linecap="round"/>
<path d="M652.6,672.2 L661.5,670.4" stroke="#6c1a0a" stroke-width="1.65" stroke-linecap="round"/>
<path d="M654.5,677.3 L661.4,676.3" stroke="#6c1a0a" stroke-width="1.35" stroke-linecap="round"/>
<path d="M654.9,682.1 L663.8,682.4" stroke="#6c1a0a" stroke-width="1.70" stroke-linecap="round"/>
<path d="M662.3,670.2 L671.3,667.9" stroke="#6c1a0a" stroke-width="1.32" stroke-linecap="round"/>
<path d="M663.6,674.9 L672.1,671.9" stroke="#6c1a0a" stroke-width="1.74" stroke-linecap="round"/>
<path d="M664.6,678.8 L672.0,679.3" stroke="#6c1a0a" stroke-width="1.97" stroke-linecap="round"/>
<path d="M664.2,684.1 L672.5,682.9" stroke="#6c1a0a" stroke-width="1.31" stroke-linecap="round"/>
</g></g>
<circle cx="685" cy="-52" r="90.5" fill="#b4cf46" stroke="#5a1508" stroke-width="2.6"/>
<path d="M610,2 C622,18 640,30 679,35" fill="none" stroke="#e8ef9a" stroke-width="0.8"/>
<g transform="rotate(28 621.5 98.5)">
<ellipse cx="621.5" cy="98.5" rx="15" ry="12.8" fill="#5d8cc2" stroke="#3a1420" stroke-width="1.7"/>
<clipPath id="bb62198"><ellipse cx="621.5" cy="98.5" rx="14.2" ry="12.0"/></clipPath>
<g clip-path="url(#bb62198)">
<ellipse cx="626.8" cy="104.3" rx="9.0" ry="6.4" fill="#4b98d2"/>
<path d="M604.5,75.5 Q621.5,73.5 638.5,77.0" fill="none" stroke="#1f2d5c" stroke-width="1.15"/>
<path d="M604.5,78.9 Q621.5,76.9 638.5,80.4" fill="none" stroke="#1f2d5c" stroke-width="1.15"/>
<path d="M604.5,82.3 Q621.5,80.3 638.5,83.8" fill="none" stroke="#1f2d5c" stroke-width="1.15"/>
<path d="M604.5,85.7 Q621.5,83.7 638.5,87.2" fill="none" stroke="#1f2d5c" stroke-width="1.15"/>
<path d="M604.5,89.1 Q621.5,87.1 638.5,90.6" fill="none" stroke="#1f2d5c" stroke-width="1.15"/>
<path d="M604.5,92.5 Q621.5,90.5 638.5,94.0" fill="none" stroke="#1f2d5c" stroke-width="1.15"/>
<path d="M604.5,95.9 Q621.5,93.9 638.5,97.4" fill="none" stroke="#1f2d5c" stroke-width="1.15"/>
<path d="M604.5,99.3 Q621.5,97.3 638.5,100.8" fill="none" stroke="#1f2d5c" stroke-width="1.15"/>
<path d="M604.5,102.7 Q621.5,100.7 638.5,104.2" fill="none" stroke="#1f2d5c" stroke-width="1.15"/>
<path d="M604.5,106.1 Q621.5,104.1 638.5,107.6" fill="none" stroke="#1f2d5c" stroke-width="1.15"/>
<path d="M604.5,109.5 Q621.5,107.5 638.5,111.0" fill="none" stroke="#1f2d5c" stroke-width="1.15"/>
<path d="M604.5,112.9 Q621.5,110.9 638.5,114.4" fill="none" stroke="#1f2d5c" stroke-width="1.15"/>
<path d="M604.5,116.3 Q621.5,114.3 638.5,117.8" fill="none" stroke="#1f2d5c" stroke-width="1.15"/>
<path d="M604.5,119.7 Q621.5,117.7 638.5,121.2" fill="none" stroke="#1f2d5c" stroke-width="1.15"/>
<path d="M604.5,123.1 Q621.5,121.1 638.5,124.6" fill="none" stroke="#1f2d5c" stroke-width="1.15"/>
</g>
<path d="M623.8,86.3 q3,-4 6,-1 q3,0 4,3 q1,2 -1,3" fill="#5b8fc9" stroke="#3a1420" stroke-width="1.2"/>
</g>
<g transform="rotate(32 40 566)">
<ellipse cx="40" cy="566" rx="15" ry="13" fill="#5d8cc2" stroke="#3a1420" stroke-width="1.7"/>
<clipPath id="bb40566"><ellipse cx="40" cy="566" rx="14.2" ry="12.2"/></clipPath>
<g clip-path="url(#bb40566)">
<ellipse cx="45.2" cy="571.9" rx="9.0" ry="6.5" fill="#4b98d2"/>
<path d="M23.0,542.8 Q40.0,540.8 57.0,544.3" fill="none" stroke="#1f2d5c" stroke-width="1.15"/>
<path d="M23.0,546.2 Q40.0,544.2 57.0,547.7" fill="none" stroke="#1f2d5c" stroke-width="1.15"/>
<path d="M23.0,549.6 Q40.0,547.6 57.0,551.1" fill="none" stroke="#1f2d5c" stroke-width="1.15"/>
<path d="M23.0,553.0 Q40.0,551.0 57.0,554.5" fill="none" stroke="#1f2d5c" stroke-width="1.15"/>
<path d="M23.0,556.4 Q40.0,554.4 57.0,557.9" fill="none" stroke="#1f2d5c" stroke-width="1.15"/>
<path d="M23.0,559.8 Q40.0,557.8 57.0,561.3" fill="none" stroke="#1f2d5c" stroke-width="1.15"/>
<path d="M23.0,563.2 Q40.0,561.2 57.0,564.7" fill="none" stroke="#1f2d5c" stroke-width="1.15"/>
<path d="M23.0,566.6 Q40.0,564.6 57.0,568.1" fill="none" stroke="#1f2d5c" stroke-width="1.15"/>
<path d="M23.0,570.0 Q40.0,568.0 57.0,571.5" fill="none" stroke="#1f2d5c" stroke-width="1.15"/>
<path d="M23.0,573.4 Q40.0,571.4 57.0,574.9" fill="none" stroke="#1f2d5c" stroke-width="1.15"/>
<path d="M23.0,576.8 Q40.0,574.8 57.0,578.3" fill="none" stroke="#1f2d5c" stroke-width="1.15"/>
<path d="M23.0,580.2 Q40.0,578.2 57.0,581.7" fill="none" stroke="#1f2d5c" stroke-width="1.15"/>
<path d="M23.0,583.6 Q40.0,581.6 57.0,585.1" fill="none" stroke="#1f2d5c" stroke-width="1.15"/>
<path d="M23.0,587.0 Q40.0,585.0 57.0,588.5" fill="none" stroke="#1f2d5c" stroke-width="1.15"/>
<path d="M23.0,590.4 Q40.0,588.4 57.0,591.9" fill="none" stroke="#1f2d5c" stroke-width="1.15"/>
</g>
<path d="M42.2,553.6 q3,-4 6,-1 q3,0 4,3 q1,2 -1,3" fill="#5b8fc9" stroke="#3a1420" stroke-width="1.2"/>
</g>
<g transform="rotate(28 511 682)">
<ellipse cx="511" cy="682" rx="14.5" ry="13" fill="#5d8cc2" stroke="#3a1420" stroke-width="1.7"/>
<clipPath id="bb511682"><ellipse cx="511" cy="682" rx="13.7" ry="12.2"/></clipPath>
<g clip-path="url(#bb511682)">
<ellipse cx="516.1" cy="687.9" rx="8.7" ry="6.5" fill="#4b98d2"/>
<path d="M494.5,658.8 Q511.0,656.8 527.5,660.3" fill="none" stroke="#1f2d5c" stroke-width="1.15"/>
<path d="M494.5,662.2 Q511.0,660.2 527.5,663.7" fill="none" stroke="#1f2d5c" stroke-width="1.15"/>
<path d="M494.5,665.6 Q511.0,663.6 527.5,667.1" fill="none" stroke="#1f2d5c" stroke-width="1.15"/>
<path d="M494.5,669.0 Q511.0,667.0 527.5,670.5" fill="none" stroke="#1f2d5c" stroke-width="1.15"/>
<path d="M494.5,672.4 Q511.0,670.4 527.5,673.9" fill="none" stroke="#1f2d5c" stroke-width="1.15"/>
<path d="M494.5,675.8 Q511.0,673.8 527.5,677.3" fill="none" stroke="#1f2d5c" stroke-width="1.15"/>
<path d="M494.5,679.2 Q511.0,677.2 527.5,680.7" fill="none" stroke="#1f2d5c" stroke-width="1.15"/>
<path d="M494.5,682.6 Q511.0,680.6 527.5,684.1" fill="none" stroke="#1f2d5c" stroke-width="1.15"/>
<path d="M494.5,686.0 Q511.0,684.0 527.5,687.5" fill="none" stroke="#1f2d5c" stroke-width="1.15"/>
<path d="M494.5,689.4 Q511.0,687.4 527.5,690.9" fill="none" stroke="#1f2d5c" stroke-width="1.15"/>
<path d="M494.5,692.8 Q511.0,690.8 527.5,694.3" fill="none" stroke="#1f2d5c" stroke-width="1.15"/>
<path d="M494.5,696.2 Q511.0,694.2 527.5,697.7" fill="none" stroke="#1f2d5c" stroke-width="1.15"/>
<path d="M494.5,699.6 Q511.0,697.6 527.5,701.1" fill="none" stroke="#1f2d5c" stroke-width="1.15"/>
<path d="M494.5,703.0 Q511.0,701.0 527.5,704.5" fill="none" stroke="#1f2d5c" stroke-width="1.15"/>
<path d="M494.5,706.4 Q511.0,704.4 527.5,707.9" fill="none" stroke="#1f2d5c" stroke-width="1.15"/>
</g>
<path d="M513.2,669.6 q3,-4 6,-1 q3,0 4,3 q1,2 -1,3" fill="#5b8fc9" stroke="#3a1420" stroke-width="1.2"/>
</g>
<path d="M675,202 C660,204 640,208 625,216 C618,220 614,224 612,228" fill="none" stroke="#5a1508" stroke-width="4.5" stroke-linecap="round"/>
<path d="M673,202 C660,204 640,208 625,216 C618,220 614,224 612,227" fill="none" stroke="#d79a7c" stroke-width="2"/>
<circle cx="675" cy="202" r="2.3" fill="#e6b38e" stroke="#5a1508" stroke-width="1.2"/>
<ellipse cx="605" cy="237" rx="23" ry="27" fill="#d63c72" stroke="#5a1508" stroke-width="2.4"/>
<path d="M608.0,214 C616,218 622,226 624.0,232" fill="none" stroke="#7a1330" stroke-width="1.2" stroke-dasharray="4 2"/>
<path d="M608.5,221 C617,225 622,233 623.4,238" fill="none" stroke="#7a1330" stroke-width="1.2" stroke-dasharray="4 2"/>
<path d="M609.0,228 C618,232 622,240 622.8,244" fill="none" stroke="#7a1330" stroke-width="1.2" stroke-dasharray="4 2"/>
<path d="M609.5,235 C619,239 622,247 622.2,250" fill="none" stroke="#7a1330" stroke-width="1.2" stroke-dasharray="4 2"/>
<path d="M610.0,242 C620,246 622,254 621.6,256" fill="none" stroke="#7a1330" stroke-width="1.2" stroke-dasharray="4 2"/>
<path d="M610.5,249 C621,253 622,261 621.0,262" fill="none" stroke="#7a1330" stroke-width="1.2" stroke-dasharray="4 2"/>
<path d="M603,190 C614,179 632,173 648,179 C659,184 666,194 673,201 C660,205 640,208 622,207 C613,207 606,205 603,203 Z" fill="#7db34e" stroke="#5a1508" stroke-width="1.8"/>
<path d="M604,196 C630,196 655,199 672,201" fill="none" stroke="#5a1508" stroke-width="1.5"/>
<path d="M610.0,196 C607.0,191 604.0,187 602.0,183.0" fill="none" stroke="#5a1508" stroke-width="1.1"/>
<path d="M610.0,197 C607.0,201 604.0,203 601.0,205" fill="none" stroke="#5a1508" stroke-width="1.1"/>
<path d="M617.5,196 C614.5,191 611.5,187 609.5,183.8" fill="none" stroke="#5a1508" stroke-width="1.1"/>
<path d="M617.5,197 C614.5,201 611.5,203 608.5,205" fill="none" stroke="#5a1508" stroke-width="1.1"/>
<path d="M625.0,196 C622.0,191 619.0,187 617.0,184.6" fill="none" stroke="#5a1508" stroke-width="1.1"/>
<path d="M625.0,197 C622.0,201 619.0,203 616.0,205" fill="none" stroke="#5a1508" stroke-width="1.1"/>
<path d="M632.5,196 C629.5,191 626.5,187 624.5,185.4" fill="none" stroke="#5a1508" stroke-width="1.1"/>
<path d="M632.5,197 C629.5,201 626.5,203 623.5,205" fill="none" stroke="#5a1508" stroke-width="1.1"/>
<path d="M640.0,196 C637.0,191 634.0,187 632.0,186.2" fill="none" stroke="#5a1508" stroke-width="1.1"/>
<path d="M640.0,197 C637.0,201 634.0,203 631.0,205" fill="none" stroke="#5a1508" stroke-width="1.1"/>
<path d="M647.5,196 C644.5,191 641.5,187 639.5,187.0" fill="none" stroke="#5a1508" stroke-width="1.1"/>
<path d="M647.5,197 C644.5,201 641.5,203 638.5,205" fill="none" stroke="#5a1508" stroke-width="1.1"/>
<path d="M655.0,196 C652.0,191 649.0,187 647.0,187.8" fill="none" stroke="#5a1508" stroke-width="1.1"/>
<path d="M655.0,197 C652.0,201 649.0,203 646.0,205" fill="none" stroke="#5a1508" stroke-width="1.1"/>
<path d="M662.5,196 C659.5,191 656.5,187 654.5,188.6" fill="none" stroke="#5a1508" stroke-width="1.1"/>
<path d="M662.5,197 C659.5,201 656.5,203 653.5,205" fill="none" stroke="#5a1508" stroke-width="1.1"/>
<path d="M603,388 C615,387 631,391 635,407 C638,424 631,445 616,457 C611,461 606,463 603,463 Z" fill="#b8d657" stroke="#5a1508" stroke-width="3"/>
<path d="M606,395 C612,410 613,430 608,452" fill="none" stroke="#eef2a8" stroke-width="1.2" stroke-dasharray="9 2"/>
<path d="M610,397 C616,413 616,430 611,448" fill="none" stroke="#eef2a8" stroke-width="1.2" stroke-dasharray="9 2"/>
<path d="M614,399 C620,416 619,430 614,444" fill="none" stroke="#eef2a8" stroke-width="1.2" stroke-dasharray="9 2"/>
<path d="M618,401 C624,419 622,430 617,440" fill="none" stroke="#eef2a8" stroke-width="1.2" stroke-dasharray="9 2"/>
<path d="M622,403 C628,422 625,430 620,436" fill="none" stroke="#eef2a8" stroke-width="1.2" stroke-dasharray="9 2"/>
<path d="M626,398 C631,412 630,430 622,446" fill="none" stroke="#5a1508" stroke-width="1.1" stroke-dasharray="6 2"/>
<path d="M629,400 C633,412 631,430 623,446" fill="none" stroke="#5a1508" stroke-width="1.1" stroke-dasharray="6 2"/>
<path d="M603,338 C620,335 637,343 648,357 C655,367 660,377 669,384 C656,390 640,398 626,397 C615,396 607,392 603,390 Z" fill="#78ae4b" stroke="#5a1508" stroke-width="2"/>
<clipPath id="cL2"><path d="M603,338 C620,335 637,343 648,357 C655,367 660,377 669,384 C656,390 640,398 626,397 C615,396 607,392 603,390 Z"/></clipPath><g clip-path="url(#cL2)">
<path d="M600,318.0 C615,324.0 635,332.0 672,352.0" fill="none" stroke="#4e1a0a" stroke-width="1.7"/>
<path d="M600,323.2 C615,329.2 635,337.2 672,357.2" fill="none" stroke="#4e1a0a" stroke-width="1.7"/>
<path d="M600,328.4 C615,334.4 635,342.4 672,362.4" fill="none" stroke="#4e1a0a" stroke-width="1.7"/>
<path d="M600,333.6 C615,339.6 635,347.6 672,367.6" fill="none" stroke="#4e1a0a" stroke-width="1.7"/>
<path d="M600,338.8 C615,344.8 635,352.8 672,372.8" fill="none" stroke="#4e1a0a" stroke-width="1.7"/>
<path d="M600,344.0 C615,350.0 635,358.0 672,378.0" fill="none" stroke="#4e1a0a" stroke-width="1.7"/>
<path d="M600,349.2 C615,355.2 635,363.2 672,383.2" fill="none" stroke="#4e1a0a" stroke-width="1.7"/>
<path d="M600,354.4 C615,360.4 635,368.4 672,388.4" fill="none" stroke="#4e1a0a" stroke-width="1.7"/>
<path d="M600,359.6 C615,365.6 635,373.6 672,393.6" fill="none" stroke="#4e1a0a" stroke-width="1.7"/>
<path d="M600,364.8 C615,370.8 635,378.8 672,398.8" fill="none" stroke="#4e1a0a" stroke-width="1.7"/>
<path d="M600,370.0 C615,376.0 635,384.0 672,404.0" fill="none" stroke="#4e1a0a" stroke-width="1.7"/>
<path d="M600,375.2 C615,381.2 635,389.2 672,409.2" fill="none" stroke="#4e1a0a" stroke-width="1.7"/>
<path d="M600,380.4 C615,386.4 635,394.4 672,414.4" fill="none" stroke="#4e1a0a" stroke-width="1.7"/>
<path d="M600,385.6 C615,391.6 635,399.6 672,419.6" fill="none" stroke="#4e1a0a" stroke-width="1.7"/>
<path d="M600,390.8 C615,396.8 635,404.8 672,424.8" fill="none" stroke="#4e1a0a" stroke-width="1.7"/>
<path d="M600,396.0 C615,402.0 635,410.0 672,430.0" fill="none" stroke="#4e1a0a" stroke-width="1.7"/>
</g>
<path d="M622,397 C640,396 655,389 669,384" fill="none" stroke="#5a1508" stroke-width="3"/>
<ellipse cx="135" cy="676" rx="31" ry="36" fill="#dc3f3a" stroke="#6e1010" stroke-width="2.2"/>
<clipPath id="cSB"><ellipse cx="135" cy="676" rx="30" ry="35"/></clipPath><g clip-path="url(#cSB)">
<path d="M105.6,648.0 q1.6,3 3.2,0" fill="none" stroke="#6e1010" stroke-width="1.3"/>
<path d="M112.5,648.0 q1.6,3 3.2,0" fill="none" stroke="#6e1010" stroke-width="1.3"/>
<path d="M120.7,648.0 q1.6,3 3.2,0" fill="none" stroke="#6e1010" stroke-width="1.3"/>
<path d="M126.7,648.0 q1.6,3 3.2,0" fill="none" stroke="#6e1010" stroke-width="1.3"/>
<path d="M134.9,648.0 q1.6,3 3.2,0" fill="none" stroke="#6e1010" stroke-width="1.3"/>
<path d="M141.7,648.0 q1.6,3 3.2,0" fill="none" stroke="#6e1010" stroke-width="1.3"/>
<path d="M148.3,648.0 q1.6,3 3.2,0" fill="none" stroke="#6e1010" stroke-width="1.3"/>
<path d="M156.4,648.0 q1.6,3 3.2,0" fill="none" stroke="#6e1010" stroke-width="1.3"/>
<path d="M162.7,648.0 q1.6,3 3.2,0" fill="none" stroke="#6e1010" stroke-width="1.3"/>
<path d="M109.5,655.0 q1.6,3 3.2,0" fill="none" stroke="#6e1010" stroke-width="1.3"/>
<path d="M115.9,655.0 q1.6,3 3.2,0" fill="none" stroke="#6e1010" stroke-width="1.3"/>
<path d="M123.2,655.0 q1.6,3 3.2,0" fill="none" stroke="#6e1010" stroke-width="1.3"/>
<path d="M131.0,655.0 q1.6,3 3.2,0" fill="none" stroke="#6e1010" stroke-width="1.3"/>
<path d="M139.1,655.0 q1.6,3 3.2,0" fill="none" stroke="#6e1010" stroke-width="1.3"/>
<path d="M144.8,655.0 q1.6,3 3.2,0" fill="none" stroke="#6e1010" stroke-width="1.3"/>
<path d="M152.2,655.0 q1.6,3 3.2,0" fill="none" stroke="#6e1010" stroke-width="1.3"/>
<path d="M160.3,655.0 q1.6,3 3.2,0" fill="none" stroke="#6e1010" stroke-width="1.3"/>
<path d="M168.1,655.0 q1.6,3 3.2,0" fill="none" stroke="#6e1010" stroke-width="1.3"/>
<path d="M106.2,662.0 q1.6,3 3.2,0" fill="none" stroke="#6e1010" stroke-width="1.3"/>
<path d="M113.0,662.0 q1.6,3 3.2,0" fill="none" stroke="#6e1010" stroke-width="1.3"/>
<path d="M121.4,662.0 q1.6,3 3.2,0" fill="none" stroke="#6e1010" stroke-width="1.3"/>
<path d="M126.7,662.0 q1.6,3 3.2,0" fill="none" stroke="#6e1010" stroke-width="1.3"/>
<path d="M135.5,662.0 q1.6,3 3.2,0" fill="none" stroke="#6e1010" stroke-width="1.3"/>
<path d="M141.6,662.0 q1.6,3 3.2,0" fill="none" stroke="#6e1010" stroke-width="1.3"/>
<path d="M148.5,662.0 q1.6,3 3.2,0" fill="none" stroke="#6e1010" stroke-width="1.3"/>
<path d="M155.6,662.0 q1.6,3 3.2,0" fill="none" stroke="#6e1010" stroke-width="1.3"/>
<path d="M163.2,662.0 q1.6,3 3.2,0" fill="none" stroke="#6e1010" stroke-width="1.3"/>
<path d="M110.2,669.0 q1.6,3 3.2,0" fill="none" stroke="#6e1010" stroke-width="1.3"/>
<path d="M116.2,669.0 q1.6,3 3.2,0" fill="none" stroke="#6e1010" stroke-width="1.3"/>
<path d="M124.2,669.0 q1.6,3 3.2,0" fill="none" stroke="#6e1010" stroke-width="1.3"/>
<path d="M131.5,669.0 q1.6,3 3.2,0" fill="none" stroke="#6e1010" stroke-width="1.3"/>
<path d="M138.1,669.0 q1.6,3 3.2,0" fill="none" stroke="#6e1010" stroke-width="1.3"/>
<path d="M145.7,669.0 q1.6,3 3.2,0" fill="none" stroke="#6e1010" stroke-width="1.3"/>
<path d="M151.9,669.0 q1.6,3 3.2,0" fill="none" stroke="#6e1010" stroke-width="1.3"/>
<path d="M159.1,669.0 q1.6,3 3.2,0" fill="none" stroke="#6e1010" stroke-width="1.3"/>
<path d="M166.6,669.0 q1.6,3 3.2,0" fill="none" stroke="#6e1010" stroke-width="1.3"/>
<path d="M106.4,676.0 q1.6,3 3.2,0" fill="none" stroke="#6e1010" stroke-width="1.3"/>
<path d="M113.1,676.0 q1.6,3 3.2,0" fill="none" stroke="#6e1010" stroke-width="1.3"/>
<path d="M120.0,676.0 q1.6,3 3.2,0" fill="none" stroke="#6e1010" stroke-width="1.3"/>
<path d="M127.8,676.0 q1.6,3 3.2,0" fill="none" stroke="#6e1010" stroke-width="1.3"/>
<path d="M134.7,676.0 q1.6,3 3.2,0" fill="none" stroke="#6e1010" stroke-width="1.3"/>
<path d="M141.6,676.0 q1.6,3 3.2,0" fill="none" stroke="#6e1010" stroke-width="1.3"/>
<path d="M149.8,676.0 q1.6,3 3.2,0" fill="none" stroke="#6e1010" stroke-width="1.3"/>
<path d="M156.8,676.0 q1.6,3 3.2,0" fill="none" stroke="#6e1010" stroke-width="1.3"/>
<path d="M163.1,676.0 q1.6,3 3.2,0" fill="none" stroke="#6e1010" stroke-width="1.3"/>
<path d="M109.7,683.0 q1.6,3 3.2,0" fill="none" stroke="#6e1010" stroke-width="1.3"/>
<path d="M116.9,683.0 q1.6,3 3.2,0" fill="none" stroke="#6e1010" stroke-width="1.3"/>
<path d="M124.8,683.0 q1.6,3 3.2,0" fill="none" stroke="#6e1010" stroke-width="1.3"/>
<path d="M131.7,683.0 q1.6,3 3.2,0" fill="none" stroke="#6e1010" stroke-width="1.3"/>
<path d="M138.0,683.0 q1.6,3 3.2,0" fill="none" stroke="#6e1010" stroke-width="1.3"/>
<path d="M146.6,683.0 q1.6,3 3.2,0" fill="none" stroke="#6e1010" stroke-width="1.3"/>
<path d="M152.0,683.0 q1.6,3 3.2,0" fill="none" stroke="#6e1010" stroke-width="1.3"/>
<path d="M159.8,683.0 q1.6,3 3.2,0" fill="none" stroke="#6e1010" stroke-width="1.3"/>
<path d="M167.7,683.0 q1.6,3 3.2,0" fill="none" stroke="#6e1010" stroke-width="1.3"/>
<path d="M104.0,672 C108,668 112,672 116,678" fill="none" stroke="#7a1010" stroke-width="1.1"/>
<path d="M106.5,667 C111,663 115,668 119,675" fill="none" stroke="#7a1010" stroke-width="1.1"/>
<path d="M109.0,662 C114,658 118,664 122,672" fill="none" stroke="#7a1010" stroke-width="1.1"/>
<path d="M111.5,657 C117,653 121,660 125,669" fill="none" stroke="#7a1010" stroke-width="1.1"/>
<path d="M114.0,652 C120,648 124,656 128,666" fill="none" stroke="#7a1010" stroke-width="1.1"/>
<path d="M116.5,647 C123,643 127,652 131,663" fill="none" stroke="#7a1010" stroke-width="1.1"/>
<path d="M119.0,642 C126,638 130,648 134,660" fill="none" stroke="#7a1010" stroke-width="1.1"/>
</g>
<path d="M106,652 L118,648 L121,654 Z" fill="#e2d79a" stroke="#5a1508" stroke-width="1.1"/>
<path d="M114,642 L123,647 L120,651 Z" fill="#e2d79a" stroke="#5a1508" stroke-width="1.1"/>
<path d="M135,636 L132,646 L128,647 Z" fill="#e2d79a" stroke="#5a1508" stroke-width="1.1"/>
<path d="M148,638 L139,647 L135,646 Z" fill="#e2d79a" stroke="#5a1508" stroke-width="1.1"/>
<path d="M158,646 L146,650 L144,647 Z" fill="#e2d79a" stroke="#5a1508" stroke-width="1.1"/>
<path d="M129,625 C123,624 123,633 127,642" fill="none" stroke="#5a1508" stroke-width="4.6" stroke-linecap="round"/>
<path d="M128,625.5 C124,626 124,634 127,640" fill="none" stroke="#e9d69a" stroke-width="1.6" stroke-dasharray="1.6 1.2"/>
<ellipse cx="572" cy="598" rx="14" ry="7" fill="#5a1508"/>
</svg>
<div class="panel"></div>
<div class="title">Supplement Facts</div>
<div class="t" style="top:127.00px;transform:scaleX(0.98);transform-origin:0 0;left:80.40px;">Serving Size</div>
<div class="t" style="top:121.00px;transform:scaleX(0.98);transform-origin:50% 0;left:267.60px;width:120px;text-align:center;">1-3 Years</div>
<div class="t" style="top:132.00px;transform:scaleX(0.98);transform-origin:50% 0;left:267.60px;width:120px;text-align:center;">1/2 tsp (2.5 mL)</div>
<div class="t" style="top:121.00px;transform:scaleX(0.98);transform-origin:50% 0;left:375.60px;width:120px;text-align:center;">4-13 Years</div>
<div class="t" style="top:132.00px;transform:scaleX(0.98);transform-origin:50% 0;left:375.60px;width:120px;text-align:center;">1 tbsp (15 mL)</div>
<div class="t" style="top:121.00px;transform:scaleX(0.98);transform-origin:50% 0;left:484.00px;width:120px;text-align:center;">14+ Years</div>
<div class="t" style="top:132.00px;transform:scaleX(0.98);transform-origin:50% 0;left:484.00px;width:120px;text-align:center;">2 tbsp (30 mL)</div>
<div class="t" style="top:150.00px;transform:scaleX(0.98);transform-origin:0 0;left:80.40px;">Servings Per Container</div>
<div class="t" style="top:150.00px;transform:scaleX(0.98);transform-origin:50% 0;left:267.60px;width:120px;text-align:center;">About 378</div>
<div class="t" style="top:150.00px;transform:scaleX(0.98);transform-origin:50% 0;left:375.60px;width:120px;text-align:center;">About 63</div>
<div class="t" style="top:150.00px;transform:scaleX(0.98);transform-origin:50% 0;left:484.00px;width:120px;text-align:center;">About 32</div>
<div class="l" style="top:167.60px;height:10.8px;left:80px;width:519px;background:#231f20"></div>
<div class="t" style="top:181.00px;font-size:9.5px;font-weight:bold;left:200.20px;width:120px;text-align:center;">Amount</div>
<div class="t" style="top:193.00px;font-size:9.5px;font-weight:bold;left:200.20px;width:120px;text-align:center;">Per Serving</div>
<div class="t" style="top:181.00px;font-size:9.5px;font-weight:bold;left:304.50px;width:120px;text-align:center;">% DV for</div>
<div class="t" style="top:193.00px;font-size:9.5px;font-weight:bold;left:304.50px;width:120px;text-align:center;">1-3 Years</div>
<div class="t" style="top:181.00px;font-size:9.5px;font-weight:bold;left:412.00px;width:120px;text-align:center;">% DV for</div>
<div class="t" style="top:193.00px;font-size:9.5px;font-weight:bold;left:412.00px;width:120px;text-align:center;">4-13 Years</div>
<div class="t" style="top:181.00px;font-size:9.5px;font-weight:bold;left:518.50px;width:120px;text-align:center;">% DV for</div>
<div class="t" style="top:193.00px;font-size:9.5px;font-weight:bold;left:518.50px;width:120px;text-align:center;">14+ Years</div>
<div class="l" style="top:207.00px;height:3.5px;left:80px;width:519px;background:#231f20"></div>
<div class="t" style="top:212.00px;transform:scaleX(0.98);transform-origin:0 0;left:80.40px;">Calories</div>
<div class="t" style="top:212.00px;transform:scaleX(0.98);transform-origin:50% 0;left:248.00px;width:120px;text-align:center;">5</div>
<div class="t" style="top:212.00px;transform:scaleX(0.98);transform-origin:50% 0;left:356.50px;width:120px;text-align:center;">20</div>
<div class="t" style="top:212.00px;transform:scaleX(0.98);transform-origin:50% 0;left:464.60px;width:120px;text-align:center;">40</div>
<div class="l" style="top:222.00px;height:1px;left:80px;width:519px;background:#2a2626"></div>
<div class="t" style="top:224.00px;transform:scaleX(0.98);transform-origin:0 0;left:80.40px;">Total Carbohydrate</div>
<div class="t" style="top:224.00px;transform:scaleX(0.98);transform-origin:50% 0;left:248.00px;width:120px;text-align:center;">1 g</div>
<div class="t" style="top:224.00px;transform:scaleX(0.98);transform-origin:50% 0;left:304.50px;width:120px;text-align:center;">1%<sup>**</sup></div>
<div class="t" style="top:224.00px;transform:scaleX(0.98);transform-origin:50% 0;left:356.50px;width:120px;text-align:center;">4 g</div>
<div class="t" style="top:224.00px;transform:scaleX(0.98);transform-origin:50% 0;left:411.50px;width:120px;text-align:center;">1%<sup>*</sup></div>
<div class="t" style="top:224.00px;transform:scaleX(0.98);transform-origin:50% 0;left:464.60px;width:120px;text-align:center;">8 g</div>
<div class="t" style="top:224.00px;transform:scaleX(0.98);transform-origin:50% 0;left:518.20px;width:120px;text-align:center;">3%<sup>*</sup></div>
<div class="l" style="top:234.50px;height:1px;left:80px;width:519px;background:#2a2626"></div>
<div class="t" style="top:237.00px;transform:scaleX(0.98);transform-origin:0 0;left:80.40px;">Vitamin A (as Beta Carotene)</div>
<div class="t" style="top:237.00px;transform:scaleX(0.98);transform-origin:50% 0;left:248.00px;width:120px;text-align:center;">80 mcg</div>
<div class="t" style="top:237.00px;transform:scaleX(0.98);transform-origin:50% 0;left:304.50px;width:120px;text-align:center;">27%</div>
<div class="t" style="top:237.00px;transform:scaleX(0.98);transform-origin:50% 0;left:356.50px;width:120px;text-align:center;">450 mcg</div>
<div class="t" style="top:237.00px;transform:scaleX(0.98);transform-origin:50% 0;left:411.50px;width:120px;text-align:center;">50%</div>
<div class="t" style="top:237.00px;transform:scaleX(0.98);transform-origin:50% 0;left:464.60px;width:120px;text-align:center;">900 mcg</div>
<div class="t" style="top:237.00px;transform:scaleX(0.98);transform-origin:50% 0;left:518.20px;width:120px;text-align:center;">100%</div>
<div class="l" style="top:247.00px;height:1px;left:80px;width:519px;background:#2a2626"></div>
<div class="t" style="top:249.00px;transform:scaleX(0.98);transform-origin:0 0;left:80.40px;">Vitamin C (Ascorbic Acid)</div>
<div class="t" style="top:249.00px;transform:scaleX(0.98);transform-origin:50% 0;left:248.00px;width:120px;text-align:center;">1 mg</div>
<div class="t" style="top:249.00px;transform:scaleX(0.98);transform-origin:50% 0;left:304.50px;width:120px;text-align:center;">8%</div>
<div class="t" style="top:249.00px;transform:scaleX(0.98);transform-origin:50% 0;left:356.50px;width:120px;text-align:center;">7 mg</div>
<div class="t" style="top:249.00px;transform:scaleX(0.98);transform-origin:50% 0;left:411.50px;width:120px;text-align:center;">8%</div>
<div class="t" style="top:249.00px;transform:scaleX(0.98);transform-origin:50% 0;left:464.60px;width:120px;text-align:center;">15 mg</div>
<div class="t" style="top:249.00px;transform:scaleX(0.98);transform-origin:50% 0;left:518.20px;width:120px;text-align:center;">17%</div>
<div class="l" style="top:259.50px;height:1px;left:80px;width:519px;background:#2a2626"></div>
<div class="t" style="top:261.00px;transform:scaleX(0.98);transform-origin:0 0;left:80.40px;">Vitamin D (as Cholecalciferol)</div>
<div class="t" style="top:261.00px;transform:scaleX(0.98);transform-origin:50% 0;left:248.00px;width:120px;text-align:center;">1.7 mcg (68 IU)</div>
<div class="t" style="top:261.00px;transform:scaleX(0.98);transform-origin:50% 0;left:304.50px;width:120px;text-align:center;">11%</div>
<div class="t" style="top:261.00px;transform:scaleX(0.98);transform-origin:50% 0;left:356.50px;width:120px;text-align:center;">10 mcg (400 IU)</div>
<div class="t" style="top:261.00px;transform:scaleX(0.98);transform-origin:50% 0;left:411.50px;width:120px;text-align:center;">50%</div>
<div class="t" style="top:261.00px;transform:scaleX(0.98);transform-origin:50% 0;left:464.60px;width:120px;text-align:center;">20 mcg (800 IU)</div>
<div class="t" style="top:261.00px;transform:scaleX(0.98);transform-origin:50% 0;left:518.20px;width:120px;text-align:center;">100%</div>
<div class="l" style="top:272.00px;height:1px;left:80px;width:519px;background:#2a2626"></div>
<div class="t" style="top:274.00px;transform:scaleX(0.98);transform-origin:0 0;left:80.40px;">Vitamin E (as D-Alpha Tocopherol Acetate)</div>
<div class="t" style="top:274.00px;transform:scaleX(0.98);transform-origin:50% 0;left:248.00px;width:120px;text-align:center;">1.3 mg</div>
<div class="t" style="top:274.00px;transform:scaleX(0.98);transform-origin:50% 0;left:304.50px;width:120px;text-align:center;">22%</div>
<div class="t" style="top:274.00px;transform:scaleX(0.98);transform-origin:50% 0;left:356.50px;width:120px;text-align:center;">7.5 mg</div>
<div class="t" style="top:274.00px;transform:scaleX(0.98);transform-origin:50% 0;left:411.50px;width:120px;text-align:center;">50%</div>
<div class="t" style="top:274.00px;transform:scaleX(0.98);transform-origin:50% 0;left:464.60px;width:120px;text-align:center;">15 mg</div>
<div class="t" style="top:274.00px;transform:scaleX(0.98);transform-origin:50% 0;left:518.20px;width:120px;text-align:center;">100%</div>
<div class="l" style="top:284.50px;height:1px;left:80px;width:519px;background:#2a2626"></div>
<div class="t" style="top:286.00px;transform:scaleX(0.98);transform-origin:0 0;left:80.40px;">Thiamin (as Thiamine Hydrochloride)</div>
<div class="t" style="top:286.00px;transform:scaleX(0.98);transform-origin:50% 0;left:248.00px;width:120px;text-align:center;">0.1 mg</div>
<div class="t" style="top:286.00px;transform:scaleX(0.98);transform-origin:50% 0;left:304.50px;width:120px;text-align:center;">20%</div>
<div class="t" style="top:286.00px;transform:scaleX(0.98);transform-origin:50% 0;left:356.50px;width:120px;text-align:center;">0.6 mg</div>
<div class="t" style="top:286.00px;transform:scaleX(0.98);transform-origin:50% 0;left:411.50px;width:120px;text-align:center;">50%</div>
<div class="t" style="top:286.00px;transform:scaleX(0.98);transform-origin:50% 0;left:464.60px;width:120px;text-align:center;">1.2 mg</div>
<div class="t" style="top:286.00px;transform:scaleX(0.98);transform-origin:50% 0;left:518.20px;width:120px;text-align:center;">100%</div>
<div class="l" style="top:297.00px;height:1px;left:80px;width:519px;background:#2a2626"></div>
<div class="t" style="top:299.00px;transform:scaleX(0.98);transform-origin:0 0;left:80.40px;">Riboflavin</div>
<div class="t" style="top:299.00px;transform:scaleX(0.98);transform-origin:50% 0;left:248.00px;width:120px;text-align:center;">0.11 mg</div>
<div class="t" style="top:299.00px;transform:scaleX(0.98);transform-origin:50% 0;left:304.50px;width:120px;text-align:center;">22%</div>
<div class="t" style="top:299.00px;transform:scaleX(0.98);transform-origin:50% 0;left:356.50px;width:120px;text-align:center;">0.65 mg</div>
<div class="t" style="top:299.00px;transform:scaleX(0.98);transform-origin:50% 0;left:411.50px;width:120px;text-align:center;">50%</div>
<div class="t" style="top:299.00px;transform:scaleX(0.98);transform-origin:50% 0;left:464.60px;width:120px;text-align:center;">1.3 mg</div>
<div class="t" style="top:299.00px;transform:scaleX(0.98);transform-origin:50% 0;left:518.20px;width:120px;text-align:center;">100%</div>
<div class="l" style="top:309.50px;height:1px;left:80px;width:519px;background:#2a2626"></div>
<div class="t" style="top:311.00px;transform:scaleX(0.98);transform-origin:0 0;left:80.40px;">Niacin (as Niacinamide)</div>
<div class="t" style="top:311.00px;transform:scaleX(0.98);transform-origin:50% 0;left:248.00px;width:120px;text-align:center;">1.3 mg</div>
<div class="t" style="top:311.00px;transform:scaleX(0.98);transform-origin:50% 0;left:304.50px;width:120px;text-align:center;">22%</div>
<div class="t" style="top:311.00px;transform:scaleX(0.98);transform-origin:50% 0;left:356.50px;width:120px;text-align:center;">8 mg</div>
<div class="t" style="top:311.00px;transform:scaleX(0.98);transform-origin:50% 0;left:411.50px;width:120px;text-align:center;">50%</div>
<div class="t" style="top:311.00px;transform:scaleX(0.98);transform-origin:50% 0;left:464.60px;width:120px;text-align:center;">16 mg</div>
<div class="t" style="top:311.00px;transform:scaleX(0.98);transform-origin:50% 0;left:518.20px;width:120px;text-align:center;">100%</div>
<div class="l" style="top:322.00px;height:1px;left:80px;width:519px;background:#2a2626"></div>
<div class="t" style="top:323.00px;transform:scaleX(0.98);transform-origin:0 0;left:80.40px;">Vitamin B6 (as Pyridoxine Hydrochloride)</div>
<div class="t" style="top:323.00px;transform:scaleX(0.98);transform-origin:50% 0;left:248.00px;width:120px;text-align:center;">0.14 mg</div>
<div class="t" style="top:323.00px;transform:scaleX(0.98);transform-origin:50% 0;left:304.50px;width:120px;text-align:center;">28%</div>
<div class="t" style="top:323.00px;transform:scaleX(0.98);transform-origin:50% 0;left:356.50px;width:120px;text-align:center;">0.85 mg</div>
<div class="t" style="top:323.00px;transform:scaleX(0.98);transform-origin:50% 0;left:411.50px;width:120px;text-align:center;">50%</div>
<div class="t" style="top:323.00px;transform:scaleX(0.98);transform-origin:50% 0;left:464.60px;width:120px;text-align:center;">1.7 mg</div>
<div class="t" style="top:323.00px;transform:scaleX(0.98);transform-origin:50% 0;left:518.20px;width:120px;text-align:center;">100%</div>
<div class="l" style="top:334.50px;height:1px;left:80px;width:519px;background:#2a2626"></div>
<div class="t" style="top:336.00px;transform:scaleX(0.966);transform-origin:0 0;left:80.40px;">Folate (as Calcium L-5 Methyltetrahydrofolate)</div>
<div class="t" style="top:336.00px;transform:scaleX(0.98);transform-origin:50% 0;left:248.00px;width:120px;text-align:center;">55 mcg DFE</div>
<div class="t" style="top:336.00px;transform:scaleX(0.98);transform-origin:50% 0;left:304.50px;width:120px;text-align:center;">37%</div>
<div class="t" style="top:336.00px;transform:scaleX(0.98);transform-origin:50% 0;left:356.50px;width:120px;text-align:center;">340 mcg DFE</div>
<div class="t" style="top:336.00px;transform:scaleX(0.98);transform-origin:50% 0;left:411.50px;width:120px;text-align:center;">85%</div>
<div class="t" style="top:336.00px;transform:scaleX(0.98);transform-origin:50% 0;left:464.60px;width:120px;text-align:center;">680 mcg DFE</div>
<div class="t" style="top:336.00px;transform:scaleX(0.98);transform-origin:50% 0;left:518.20px;width:120px;text-align:center;">170%</div>
<div class="l" style="top:347.00px;height:1px;left:80px;width:519px;background:#2a2626"></div>
<div class="t" style="top:348.00px;transform:scaleX(0.98);transform-origin:0 0;left:80.40px;">Vitamin B12 (as Methylcobalamin)</div>
<div class="t" style="top:348.00px;transform:scaleX(0.98);transform-origin:50% 0;left:248.00px;width:120px;text-align:center;">5 mcg</div>
<div class="t" style="top:348.00px;transform:scaleX(0.98);transform-origin:50% 0;left:304.50px;width:120px;text-align:center;">556%</div>
<div class="t" style="top:348.00px;transform:scaleX(0.98);transform-origin:50% 0;left:356.50px;width:120px;text-align:center;">30 mcg</div>
<div class="t" style="top:348.00px;transform:scaleX(0.98);transform-origin:50% 0;left:411.50px;width:120px;text-align:center;">1250%</div>
<div class="t" style="top:348.00px;transform:scaleX(0.98);transform-origin:50% 0;left:464.60px;width:120px;text-align:center;">60 mcg</div>
<div class="t" style="top:348.00px;transform:scaleX(0.98);transform-origin:50% 0;left:518.20px;width:120px;text-align:center;">2500%</div>
<div class="l" style="top:359.50px;height:1px;left:80px;width:519px;background:#2a2626"></div>
<div class="t" style="top:361.00px;transform:scaleX(0.98);transform-origin:0 0;left:80.40px;">Biotin (as D-Biotin)</div>
<div class="t" style="top:361.00px;transform:scaleX(0.98);transform-origin:50% 0;left:248.00px;width:120px;text-align:center;">12.5 mcg</div>
<div class="t" style="top:361.00px;transform:scaleX(0.98);transform-origin:50% 0;left:304.50px;width:120px;text-align:center;">156%</div>
<div class="t" style="top:361.00px;transform:scaleX(0.98);transform-origin:50% 0;left:356.50px;width:120px;text-align:center;">75 mcg</div>
<div class="t" style="top:361.00px;transform:scaleX(0.98);transform-origin:50% 0;left:411.50px;width:120px;text-align:center;">250%</div>
<div class="t" style="top:361.00px;transform:scaleX(0.98);transform-origin:50% 0;left:464.60px;width:120px;text-align:center;">150 mcg</div>
<div class="t" style="top:361.00px;transform:scaleX(0.98);transform-origin:50% 0;left:518.20px;width:120px;text-align:center;">500%</div>
<div class="l" style="top:372.00px;height:1px;left:80px;width:519px;background:#2a2626"></div>
<div class="t" style="top:373.00px;transform:scaleX(0.98);transform-origin:0 0;left:80.40px;">Pantothenic Acid (D-Calcium Pantothenate)</div>
<div class="t" style="top:373.00px;transform:scaleX(0.98);transform-origin:50% 0;left:248.00px;width:120px;text-align:center;">0.4 mg</div>
<div class="t" style="top:373.00px;transform:scaleX(0.98);transform-origin:50% 0;left:304.50px;width:120px;text-align:center;">20%</div>
<div class="t" style="top:373.00px;transform:scaleX(0.98);transform-origin:50% 0;left:356.50px;width:120px;text-align:center;">2.5 mg</div>
<div class="t" style="top:373.00px;transform:scaleX(0.98);transform-origin:50% 0;left:411.50px;width:120px;text-align:center;">50%</div>
<div class="t" style="top:373.00px;transform:scaleX(0.98);transform-origin:50% 0;left:464.60px;width:120px;text-align:center;">5 mg</div>
<div class="t" style="top:373.00px;transform:scaleX(0.98);transform-origin:50% 0;left:518.20px;width:120px;text-align:center;">100%</div>
<div class="l" style="top:384.50px;height:1px;left:80px;width:519px;background:#2a2626"></div>
<div class="t" style="top:386.00px;transform:scaleX(0.98);transform-origin:0 0;left:80.40px;">Choline (as Choline Bitartrate)</div>
<div class="t" style="top:386.00px;transform:scaleX(0.98);transform-origin:50% 0;left:356.50px;width:120px;text-align:center;">10 mg</div>
<div class="t" style="top:386.00px;transform:scaleX(0.98);transform-origin:50% 0;left:411.50px;width:120px;text-align:center;">2%</div>
<div class="t" style="top:386.00px;transform:scaleX(0.98);transform-origin:50% 0;left:464.60px;width:120px;text-align:center;">20 mg</div>
<div class="t" style="top:386.00px;transform:scaleX(0.98);transform-origin:50% 0;left:518.20px;width:120px;text-align:center;">4%</div>
<div class="l" style="top:397.00px;height:1px;left:80px;width:519px;background:#2a2626"></div>
<div class="t" style="top:398.00px;transform:scaleX(0.98);transform-origin:0 0;left:80.40px;">Zinc (as Zinc Citrate)</div>
<div class="t" style="top:398.00px;transform:scaleX(0.98);transform-origin:50% 0;left:248.00px;width:120px;text-align:center;">0.1 mg</div>
<div class="t" style="top:398.00px;transform:scaleX(0.98);transform-origin:50% 0;left:304.50px;width:120px;text-align:center;">3%</div>
<div class="t" style="top:398.00px;transform:scaleX(0.98);transform-origin:50% 0;left:356.50px;width:120px;text-align:center;">0.7 mg</div>
<div class="t" style="top:398.00px;transform:scaleX(0.98);transform-origin:50% 0;left:411.50px;width:120px;text-align:center;">6%</div>
<div class="t" style="top:398.00px;transform:scaleX(0.98);transform-origin:50% 0;left:464.60px;width:120px;text-align:center;">1.3 mg</div>
<div class="t" style="top:398.00px;transform:scaleX(0.98);transform-origin:50% 0;left:518.20px;width:120px;text-align:center;">12%</div>
<div class="l" style="top:409.50px;height:1px;left:80px;width:519px;background:#2a2626"></div>
<div class="t" style="top:411.00px;transform:scaleX(0.98);transform-origin:0 0;left:80.40px;">Chromium (as Chromium Picolinate)</div>
<div class="t" style="top:411.00px;transform:scaleX(0.98);transform-origin:50% 0;left:248.00px;width:120px;text-align:center;">1.7 mcg</div>
<div class="t" style="top:411.00px;transform:scaleX(0.98);transform-origin:50% 0;left:304.50px;width:120px;text-align:center;">15%</div>
<div class="t" style="top:411.00px;transform:scaleX(0.98);transform-origin:50% 0;left:356.50px;width:120px;text-align:center;">10 mcg</div>
<div class="t" style="top:411.00px;transform:scaleX(0.98);transform-origin:50% 0;left:411.50px;width:120px;text-align:center;">29%</div>
<div class="t" style="top:411.00px;transform:scaleX(0.98);transform-origin:50% 0;left:464.60px;width:120px;text-align:center;">20 mcg</div>
<div class="t" style="top:411.00px;transform:scaleX(0.98);transform-origin:50% 0;left:518.20px;width:120px;text-align:center;">57%</div>
<div class="l" style="top:422.40px;height:11.2px;left:80px;width:519px;background:#231f20"></div>
<div class="t" style="top:436.00px;transform:scaleX(0.98);transform-origin:0 0;left:80.40px;">Proprietary Organic Fruit Blend</div>
<div class="t" style="top:436.00px;transform:scaleX(0.98);transform-origin:50% 0;left:247.00px;width:120px;text-align:center;">8 mg</div>
<div class="t" style="top:436.00px;transform:scaleX(0.98);transform-origin:50% 0;left:302.80px;width:120px;text-align:center;"><span class="dg">&#8224;</span></div>
<div class="t" style="top:436.00px;transform:scaleX(0.98);transform-origin:50% 0;left:353.50px;width:120px;text-align:center;">51 mg</div>
<div class="t" style="top:436.00px;transform:scaleX(0.98);transform-origin:50% 0;left:406.70px;width:120px;text-align:center;"><span class="dg">&#8224;</span></div>
<div class="t" style="top:436.00px;transform:scaleX(0.98);transform-origin:50% 0;left:464.80px;width:120px;text-align:center;">100 mg</div>
<div class="t" style="top:436.00px;transform:scaleX(0.98);transform-origin:50% 0;left:518.50px;width:120px;text-align:center;"><span class="dg">&#8224;</span></div>
<div class="t" style="top:448.00px;transform:scaleX(0.98);transform-origin:0 0;left:90.20px;">Apple Fruit, Cranberry Berry, Blueberry Berry, and European Elder Berry</div>
<div class="t" style="top:460.00px;transform:scaleX(0.98);transform-origin:0 0;left:80.40px;">Inositol</div>
<div class="t" style="top:460.00px;transform:scaleX(0.98);transform-origin:50% 0;left:247.00px;width:120px;text-align:center;">4 mg</div>
<div class="t" style="top:460.00px;transform:scaleX(0.98);transform-origin:50% 0;left:302.80px;width:120px;text-align:center;"><span class="dg">&#8224;</span></div>
<div class="t" style="top:460.00px;transform:scaleX(0.98);transform-origin:50% 0;left:353.50px;width:120px;text-align:center;">25 mg</div>
<div class="t" style="top:460.00px;transform:scaleX(0.98);transform-origin:50% 0;left:406.70px;width:120px;text-align:center;"><span class="dg">&#8224;</span></div>
<div class="t" style="top:460.00px;transform:scaleX(0.98);transform-origin:50% 0;left:464.80px;width:120px;text-align:center;">50 mg</div>
<div class="t" style="top:460.00px;transform:scaleX(0.98);transform-origin:50% 0;left:518.50px;width:120px;text-align:center;"><span class="dg">&#8224;</span></div>
<div class="l" style="top:458.00px;height:1px;left:80px;width:519px;background:#2a2626"></div>
<div class="t" style="top:472.00px;transform:scaleX(0.98);transform-origin:0 0;left:80.40px;">Proprietary Branched Chain Amino Acid Complex</div>
<div class="t" style="top:472.00px;transform:scaleX(0.98);transform-origin:50% 0;left:247.00px;width:120px;text-align:center;">2 mg</div>
<div class="t" style="top:472.00px;transform:scaleX(0.98);transform-origin:50% 0;left:302.80px;width:120px;text-align:center;"><span class="dg">&#8224;</span></div>
<div class="t" style="top:472.00px;transform:scaleX(0.98);transform-origin:50% 0;left:353.50px;width:120px;text-align:center;">13 mg</div>
<div class="t" style="top:472.00px;transform:scaleX(0.98);transform-origin:50% 0;left:406.70px;width:120px;text-align:center;"><span class="dg">&#8224;</span></div>
<div class="t" style="top:472.00px;transform:scaleX(0.98);transform-origin:50% 0;left:464.80px;width:120px;text-align:center;">25 mg</div>
<div class="t" style="top:472.00px;transform:scaleX(0.98);transform-origin:50% 0;left:518.50px;width:120px;text-align:center;"><span class="dg">&#8224;</span></div>
<div class="t" style="top:484.00px;transform:scaleX(0.98);transform-origin:0 0;left:90.20px;">L-Leucine, L-Isoleucine, and L-Valine</div>
<div class="l" style="top:471.00px;height:1px;left:80px;width:519px;background:#2a2626"></div>
<div class="t" style="top:497.00px;transform:scaleX(0.98);transform-origin:0 0;left:80.40px;">Betaine</div>
<div class="t" style="top:497.00px;transform:scaleX(0.98);transform-origin:50% 0;left:247.00px;width:120px;text-align:center;">0.4 mg</div>
<div class="t" style="top:497.00px;transform:scaleX(0.98);transform-origin:50% 0;left:302.80px;width:120px;text-align:center;"><span class="dg">&#8224;</span></div>
<div class="t" style="top:497.00px;transform:scaleX(0.98);transform-origin:50% 0;left:353.50px;width:120px;text-align:center;">3 mg</div>
<div class="t" style="top:497.00px;transform:scaleX(0.98);transform-origin:50% 0;left:406.70px;width:120px;text-align:center;"><span class="dg">&#8224;</span></div>
<div class="t" style="top:497.00px;transform:scaleX(0.98);transform-origin:50% 0;left:464.80px;width:120px;text-align:center;">5 mg</div>
<div class="t" style="top:497.00px;transform:scaleX(0.98);transform-origin:50% 0;left:518.50px;width:120px;text-align:center;"><span class="dg">&#8224;</span></div>
<div class="l" style="top:496.00px;height:1px;left:80px;width:519px;background:#2a2626"></div>
<div class="t" style="top:509.00px;transform:scaleX(0.98);transform-origin:0 0;left:80.40px;">Vitamin K2 (as Menaquinone-7)</div>
<div class="t" style="top:509.00px;transform:scaleX(0.98);transform-origin:50% 0;left:247.00px;width:120px;text-align:center;">10 mcg</div>
<div class="t" style="top:509.00px;transform:scaleX(0.98);transform-origin:50% 0;left:302.80px;width:120px;text-align:center;"><span class="dg">&#8224;</span></div>
<div class="t" style="top:509.00px;transform:scaleX(0.98);transform-origin:50% 0;left:353.50px;width:120px;text-align:center;">61 mcg</div>
<div class="t" style="top:509.00px;transform:scaleX(0.98);transform-origin:50% 0;left:406.70px;width:120px;text-align:center;"><span class="dg">&#8224;</span></div>
<div class="t" style="top:509.00px;transform:scaleX(0.98);transform-origin:50% 0;left:464.80px;width:120px;text-align:center;">120 mcg</div>
<div class="t" style="top:509.00px;transform:scaleX(0.98);transform-origin:50% 0;left:518.50px;width:120px;text-align:center;"><span class="dg">&#8224;</span></div>
<div class="l" style="top:508.00px;height:1px;left:80px;width:519px;background:#2a2626"></div>
<div class="t" style="top:522.00px;transform:scaleX(0.98);transform-origin:0 0;left:80.40px;">Methylsulfonylmethane</div>
<div class="t" style="top:522.00px;transform:scaleX(0.98);transform-origin:50% 0;left:247.00px;width:120px;text-align:center;">2.5 mg</div>
<div class="t" style="top:522.00px;transform:scaleX(0.98);transform-origin:50% 0;left:302.80px;width:120px;text-align:center;"><span class="dg">&#8224;</span></div>
<div class="t" style="top:522.00px;transform:scaleX(0.98);transform-origin:50% 0;left:353.50px;width:120px;text-align:center;">15 mg</div>
<div class="t" style="top:522.00px;transform:scaleX(0.98);transform-origin:50% 0;left:406.70px;width:120px;text-align:center;"><span class="dg">&#8224;</span></div>
<div class="t" style="top:522.00px;transform:scaleX(0.98);transform-origin:50% 0;left:464.80px;width:120px;text-align:center;">30 mg</div>
<div class="t" style="top:522.00px;transform:scaleX(0.98);transform-origin:50% 0;left:518.50px;width:120px;text-align:center;"><span class="dg">&#8224;</span></div>
<div class="l" style="top:521.00px;height:1px;left:80px;width:519px;background:#2a2626"></div>
<div class="t" style="top:534.00px;transform:scaleX(0.98);transform-origin:0 0;left:80.40px;">Hesperidin</div>
<div class="t" style="top:534.00px;transform:scaleX(0.98);transform-origin:50% 0;left:247.00px;width:120px;text-align:center;">0.4 mg</div>
<div class="t" style="top:534.00px;transform:scaleX(0.98);transform-origin:50% 0;left:302.80px;width:120px;text-align:center;"><span class="dg">&#8224;</span></div>
<div class="t" style="top:534.00px;transform:scaleX(0.98);transform-origin:50% 0;left:353.50px;width:120px;text-align:center;">3 mg</div>
<div class="t" style="top:534.00px;transform:scaleX(0.98);transform-origin:50% 0;left:406.70px;width:120px;text-align:center;"><span class="dg">&#8224;</span></div>
<div class="t" style="top:534.00px;transform:scaleX(0.98);transform-origin:50% 0;left:464.80px;width:120px;text-align:center;">5 mg</div>
<div class="t" style="top:534.00px;transform:scaleX(0.98);transform-origin:50% 0;left:518.50px;width:120px;text-align:center;"><span class="dg">&#8224;</span></div>
<div class="l" style="top:533.00px;height:1px;left:80px;width:519px;background:#2a2626"></div>
<div class="l" style="top:546.20px;height:10.4px;left:80px;width:519px;background:#231f20"></div>
<div class="t" style="top:561.00px;font-size:9.84px;transform:scaleX(0.98);transform-origin:0 0;left:80.60px;"><sup>*</sup>Percent Daily Values (DV) are based on a 2,000 calorie diet.</div>
<div class="t" style="top:572.00px;font-size:9.84px;transform:scaleX(0.98);transform-origin:0 0;left:80.60px;"><sup>**</sup>Percent Daily Values (DV) are based on a 1,000 calorie diet.</div>
<div class="t" style="top:583.00px;font-size:9.84px;transform:scaleX(0.98);transform-origin:0 0;left:80.60px;">&#8224;Daily Value (DV) not established.</div>
<div class="oi" style="top:604.7px"><span>Other Ingredients: Purified Water, Vegetable Glycerin, Natural Flavors, Xanthan Gum, Citric Acid, Evaporated Sea</span></div>
<div class="oi" style="top:620px"><span>Water, Vegetable Juice Color, and Potassium Sorbate (to preserve freshness).</span></div>
</body></html>
